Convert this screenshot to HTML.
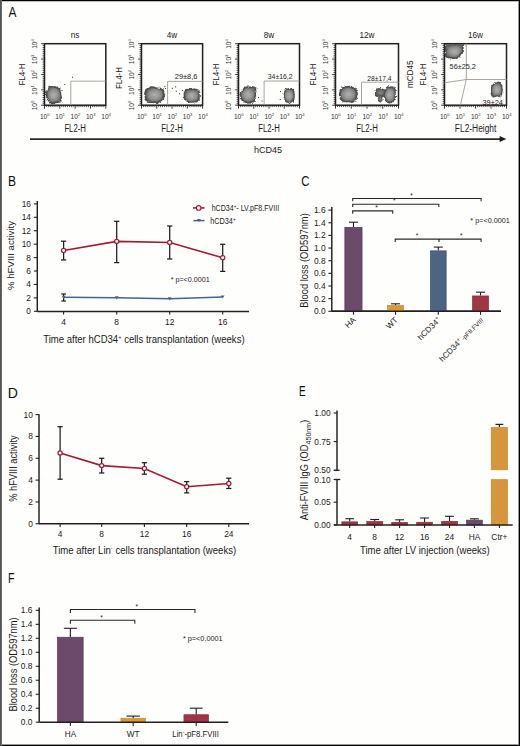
<!DOCTYPE html>
<html><head><meta charset="utf-8"><style>
html,body{margin:0;padding:0;background:#fefefc;}
svg{display:block;}
text{font-family:"Liberation Sans", sans-serif;}
</style></head><body>
<svg width="520" height="746" viewBox="0 0 520 746">
<rect x="0" y="0" width="520" height="746" fill="#fefefc"/>
<text x="0" y="0" font-size="13.8" fill="#111" transform="translate(8.38,16.8) scale(0.865,1)">A</text>
<text x="0" y="0" font-size="13.8" fill="#111" transform="translate(7.91,186.4) scale(0.873,1)">B</text>
<text x="0" y="0" font-size="13.8" fill="#111" transform="translate(301.22,186.4) scale(0.826,1)">C</text>
<text x="0" y="0" font-size="13.8" fill="#111" transform="translate(7.75,397.6) scale(1.018,1)">D</text>
<text x="0" y="0" font-size="13.8" fill="#111" transform="translate(299.08,395.9) scale(0.723,1)">E</text>
<text x="0" y="0" font-size="13.8" fill="#111" transform="translate(8.03,582.9) scale(0.772,1)">F</text>
<text x="75.15" y="37.80" font-size="8.2" fill="#1c1a1b" text-anchor="middle" >ns</text>
<line x1="44.50" y1="105.20" x2="44.50" y2="108.60" stroke="#222" stroke-width="0.9" />
<line x1="44.50" y1="105.20" x2="41.10" y2="105.20" stroke="#222" stroke-width="0.9" />
<line x1="46.42" y1="105.20" x2="46.42" y2="107.10" stroke="#222" stroke-width="0.8" />
<line x1="44.50" y1="103.28" x2="42.60" y2="103.28" stroke="#222" stroke-width="0.8" />
<line x1="48.33" y1="105.20" x2="48.33" y2="107.10" stroke="#222" stroke-width="0.8" />
<line x1="44.50" y1="101.36" x2="42.60" y2="101.36" stroke="#222" stroke-width="0.8" />
<line x1="50.25" y1="105.20" x2="50.25" y2="107.10" stroke="#222" stroke-width="0.8" />
<line x1="44.50" y1="99.43" x2="42.60" y2="99.43" stroke="#222" stroke-width="0.8" />
<line x1="52.16" y1="105.20" x2="52.16" y2="107.10" stroke="#222" stroke-width="0.8" />
<line x1="44.50" y1="97.51" x2="42.60" y2="97.51" stroke="#222" stroke-width="0.8" />
<line x1="54.08" y1="105.20" x2="54.08" y2="107.10" stroke="#222" stroke-width="0.8" />
<line x1="44.50" y1="95.59" x2="42.60" y2="95.59" stroke="#222" stroke-width="0.8" />
<line x1="55.99" y1="105.20" x2="55.99" y2="107.10" stroke="#222" stroke-width="0.8" />
<line x1="44.50" y1="93.67" x2="42.60" y2="93.67" stroke="#222" stroke-width="0.8" />
<line x1="57.91" y1="105.20" x2="57.91" y2="107.10" stroke="#222" stroke-width="0.8" />
<line x1="44.50" y1="91.75" x2="42.60" y2="91.75" stroke="#222" stroke-width="0.8" />
<line x1="59.83" y1="105.20" x2="59.83" y2="108.60" stroke="#222" stroke-width="0.9" />
<line x1="44.50" y1="89.83" x2="41.10" y2="89.83" stroke="#222" stroke-width="0.9" />
<line x1="61.74" y1="105.20" x2="61.74" y2="107.10" stroke="#222" stroke-width="0.8" />
<line x1="44.50" y1="87.90" x2="42.60" y2="87.90" stroke="#222" stroke-width="0.8" />
<line x1="63.66" y1="105.20" x2="63.66" y2="107.10" stroke="#222" stroke-width="0.8" />
<line x1="44.50" y1="85.98" x2="42.60" y2="85.98" stroke="#222" stroke-width="0.8" />
<line x1="65.57" y1="105.20" x2="65.57" y2="107.10" stroke="#222" stroke-width="0.8" />
<line x1="44.50" y1="84.06" x2="42.60" y2="84.06" stroke="#222" stroke-width="0.8" />
<line x1="67.49" y1="105.20" x2="67.49" y2="107.10" stroke="#222" stroke-width="0.8" />
<line x1="44.50" y1="82.14" x2="42.60" y2="82.14" stroke="#222" stroke-width="0.8" />
<line x1="69.40" y1="105.20" x2="69.40" y2="107.10" stroke="#222" stroke-width="0.8" />
<line x1="44.50" y1="80.22" x2="42.60" y2="80.22" stroke="#222" stroke-width="0.8" />
<line x1="71.32" y1="105.20" x2="71.32" y2="107.10" stroke="#222" stroke-width="0.8" />
<line x1="44.50" y1="78.29" x2="42.60" y2="78.29" stroke="#222" stroke-width="0.8" />
<line x1="73.23" y1="105.20" x2="73.23" y2="107.10" stroke="#222" stroke-width="0.8" />
<line x1="44.50" y1="76.37" x2="42.60" y2="76.37" stroke="#222" stroke-width="0.8" />
<line x1="75.15" y1="105.20" x2="75.15" y2="108.60" stroke="#222" stroke-width="0.9" />
<line x1="44.50" y1="74.45" x2="41.10" y2="74.45" stroke="#222" stroke-width="0.9" />
<line x1="77.07" y1="105.20" x2="77.07" y2="107.10" stroke="#222" stroke-width="0.8" />
<line x1="44.50" y1="72.53" x2="42.60" y2="72.53" stroke="#222" stroke-width="0.8" />
<line x1="78.98" y1="105.20" x2="78.98" y2="107.10" stroke="#222" stroke-width="0.8" />
<line x1="44.50" y1="70.61" x2="42.60" y2="70.61" stroke="#222" stroke-width="0.8" />
<line x1="80.90" y1="105.20" x2="80.90" y2="107.10" stroke="#222" stroke-width="0.8" />
<line x1="44.50" y1="68.68" x2="42.60" y2="68.68" stroke="#222" stroke-width="0.8" />
<line x1="82.81" y1="105.20" x2="82.81" y2="107.10" stroke="#222" stroke-width="0.8" />
<line x1="44.50" y1="66.76" x2="42.60" y2="66.76" stroke="#222" stroke-width="0.8" />
<line x1="84.73" y1="105.20" x2="84.73" y2="107.10" stroke="#222" stroke-width="0.8" />
<line x1="44.50" y1="64.84" x2="42.60" y2="64.84" stroke="#222" stroke-width="0.8" />
<line x1="86.64" y1="105.20" x2="86.64" y2="107.10" stroke="#222" stroke-width="0.8" />
<line x1="44.50" y1="62.92" x2="42.60" y2="62.92" stroke="#222" stroke-width="0.8" />
<line x1="88.56" y1="105.20" x2="88.56" y2="107.10" stroke="#222" stroke-width="0.8" />
<line x1="44.50" y1="61.00" x2="42.60" y2="61.00" stroke="#222" stroke-width="0.8" />
<line x1="90.47" y1="105.20" x2="90.47" y2="108.60" stroke="#222" stroke-width="0.9" />
<line x1="44.50" y1="59.08" x2="41.10" y2="59.08" stroke="#222" stroke-width="0.9" />
<line x1="92.39" y1="105.20" x2="92.39" y2="107.10" stroke="#222" stroke-width="0.8" />
<line x1="44.50" y1="57.15" x2="42.60" y2="57.15" stroke="#222" stroke-width="0.8" />
<line x1="94.31" y1="105.20" x2="94.31" y2="107.10" stroke="#222" stroke-width="0.8" />
<line x1="44.50" y1="55.23" x2="42.60" y2="55.23" stroke="#222" stroke-width="0.8" />
<line x1="96.22" y1="105.20" x2="96.22" y2="107.10" stroke="#222" stroke-width="0.8" />
<line x1="44.50" y1="53.31" x2="42.60" y2="53.31" stroke="#222" stroke-width="0.8" />
<line x1="98.14" y1="105.20" x2="98.14" y2="107.10" stroke="#222" stroke-width="0.8" />
<line x1="44.50" y1="51.39" x2="42.60" y2="51.39" stroke="#222" stroke-width="0.8" />
<line x1="100.05" y1="105.20" x2="100.05" y2="107.10" stroke="#222" stroke-width="0.8" />
<line x1="44.50" y1="49.47" x2="42.60" y2="49.47" stroke="#222" stroke-width="0.8" />
<line x1="101.97" y1="105.20" x2="101.97" y2="107.10" stroke="#222" stroke-width="0.8" />
<line x1="44.50" y1="47.54" x2="42.60" y2="47.54" stroke="#222" stroke-width="0.8" />
<line x1="103.88" y1="105.20" x2="103.88" y2="107.10" stroke="#222" stroke-width="0.8" />
<line x1="44.50" y1="45.62" x2="42.60" y2="45.62" stroke="#222" stroke-width="0.8" />
<line x1="105.80" y1="105.20" x2="105.80" y2="108.60" stroke="#222" stroke-width="0.9" />
<line x1="44.50" y1="43.70" x2="41.10" y2="43.70" stroke="#222" stroke-width="0.9" />
<rect x="44.50" y="43.70" width="61.30" height="61.50" fill="none" stroke="#231f20" stroke-width="1.5"/>
<text x="44.80" y="118.6" font-size="6.6" fill="#333" text-anchor="middle">10<tspan font-size="4.2" dy="-2.6">0</tspan></text>
<text x="0" y="0" font-size="6.6" fill="#333" text-anchor="middle" transform="translate(37.00,105.50) rotate(-90)">10<tspan font-size="4.2" dy="-2.6">0</tspan></text>
<text x="60.12" y="118.6" font-size="6.6" fill="#333" text-anchor="middle">10<tspan font-size="4.2" dy="-2.6">1</tspan></text>
<text x="0" y="0" font-size="6.6" fill="#333" text-anchor="middle" transform="translate(37.00,90.12) rotate(-90)">10<tspan font-size="4.2" dy="-2.6">1</tspan></text>
<text x="75.45" y="118.6" font-size="6.6" fill="#333" text-anchor="middle">10<tspan font-size="4.2" dy="-2.6">2</tspan></text>
<text x="0" y="0" font-size="6.6" fill="#333" text-anchor="middle" transform="translate(37.00,74.75) rotate(-90)">10<tspan font-size="4.2" dy="-2.6">2</tspan></text>
<text x="90.77" y="118.6" font-size="6.6" fill="#333" text-anchor="middle">10<tspan font-size="4.2" dy="-2.6">3</tspan></text>
<text x="0" y="0" font-size="6.6" fill="#333" text-anchor="middle" transform="translate(37.00,59.38) rotate(-90)">10<tspan font-size="4.2" dy="-2.6">3</tspan></text>
<text x="106.10" y="118.6" font-size="6.6" fill="#333" text-anchor="middle">10<tspan font-size="4.2" dy="-2.6">4</tspan></text>
<text x="0" y="0" font-size="6.6" fill="#333" text-anchor="middle" transform="translate(37.00,44.00) rotate(-90)">10<tspan font-size="4.2" dy="-2.6">4</tspan></text>
<text x="75.15" y="131.60" font-size="10" fill="#1c1a1b" text-anchor="middle" textLength="21.5" lengthAdjust="spacingAndGlyphs" >FL2-H</text>
<text x="0" y="0" font-size="9.6" fill="#1c1a1b"  transform="translate(24.90,74.60) rotate(-90)" text-anchor="middle" textLength="22" lengthAdjust="spacingAndGlyphs" >FL4-H</text>
<text x="172.05" y="37.80" font-size="8.2" fill="#1c1a1b" text-anchor="middle" >4w</text>
<line x1="141.50" y1="105.20" x2="141.50" y2="108.60" stroke="#222" stroke-width="0.9" />
<line x1="141.50" y1="105.20" x2="138.10" y2="105.20" stroke="#222" stroke-width="0.9" />
<line x1="143.41" y1="105.20" x2="143.41" y2="107.10" stroke="#222" stroke-width="0.8" />
<line x1="141.50" y1="103.28" x2="139.60" y2="103.28" stroke="#222" stroke-width="0.8" />
<line x1="145.32" y1="105.20" x2="145.32" y2="107.10" stroke="#222" stroke-width="0.8" />
<line x1="141.50" y1="101.36" x2="139.60" y2="101.36" stroke="#222" stroke-width="0.8" />
<line x1="147.23" y1="105.20" x2="147.23" y2="107.10" stroke="#222" stroke-width="0.8" />
<line x1="141.50" y1="99.43" x2="139.60" y2="99.43" stroke="#222" stroke-width="0.8" />
<line x1="149.14" y1="105.20" x2="149.14" y2="107.10" stroke="#222" stroke-width="0.8" />
<line x1="141.50" y1="97.51" x2="139.60" y2="97.51" stroke="#222" stroke-width="0.8" />
<line x1="151.05" y1="105.20" x2="151.05" y2="107.10" stroke="#222" stroke-width="0.8" />
<line x1="141.50" y1="95.59" x2="139.60" y2="95.59" stroke="#222" stroke-width="0.8" />
<line x1="152.96" y1="105.20" x2="152.96" y2="107.10" stroke="#222" stroke-width="0.8" />
<line x1="141.50" y1="93.67" x2="139.60" y2="93.67" stroke="#222" stroke-width="0.8" />
<line x1="154.87" y1="105.20" x2="154.87" y2="107.10" stroke="#222" stroke-width="0.8" />
<line x1="141.50" y1="91.75" x2="139.60" y2="91.75" stroke="#222" stroke-width="0.8" />
<line x1="156.78" y1="105.20" x2="156.78" y2="108.60" stroke="#222" stroke-width="0.9" />
<line x1="141.50" y1="89.83" x2="138.10" y2="89.83" stroke="#222" stroke-width="0.9" />
<line x1="158.68" y1="105.20" x2="158.68" y2="107.10" stroke="#222" stroke-width="0.8" />
<line x1="141.50" y1="87.90" x2="139.60" y2="87.90" stroke="#222" stroke-width="0.8" />
<line x1="160.59" y1="105.20" x2="160.59" y2="107.10" stroke="#222" stroke-width="0.8" />
<line x1="141.50" y1="85.98" x2="139.60" y2="85.98" stroke="#222" stroke-width="0.8" />
<line x1="162.50" y1="105.20" x2="162.50" y2="107.10" stroke="#222" stroke-width="0.8" />
<line x1="141.50" y1="84.06" x2="139.60" y2="84.06" stroke="#222" stroke-width="0.8" />
<line x1="164.41" y1="105.20" x2="164.41" y2="107.10" stroke="#222" stroke-width="0.8" />
<line x1="141.50" y1="82.14" x2="139.60" y2="82.14" stroke="#222" stroke-width="0.8" />
<line x1="166.32" y1="105.20" x2="166.32" y2="107.10" stroke="#222" stroke-width="0.8" />
<line x1="141.50" y1="80.22" x2="139.60" y2="80.22" stroke="#222" stroke-width="0.8" />
<line x1="168.23" y1="105.20" x2="168.23" y2="107.10" stroke="#222" stroke-width="0.8" />
<line x1="141.50" y1="78.29" x2="139.60" y2="78.29" stroke="#222" stroke-width="0.8" />
<line x1="170.14" y1="105.20" x2="170.14" y2="107.10" stroke="#222" stroke-width="0.8" />
<line x1="141.50" y1="76.37" x2="139.60" y2="76.37" stroke="#222" stroke-width="0.8" />
<line x1="172.05" y1="105.20" x2="172.05" y2="108.60" stroke="#222" stroke-width="0.9" />
<line x1="141.50" y1="74.45" x2="138.10" y2="74.45" stroke="#222" stroke-width="0.9" />
<line x1="173.96" y1="105.20" x2="173.96" y2="107.10" stroke="#222" stroke-width="0.8" />
<line x1="141.50" y1="72.53" x2="139.60" y2="72.53" stroke="#222" stroke-width="0.8" />
<line x1="175.87" y1="105.20" x2="175.87" y2="107.10" stroke="#222" stroke-width="0.8" />
<line x1="141.50" y1="70.61" x2="139.60" y2="70.61" stroke="#222" stroke-width="0.8" />
<line x1="177.78" y1="105.20" x2="177.78" y2="107.10" stroke="#222" stroke-width="0.8" />
<line x1="141.50" y1="68.68" x2="139.60" y2="68.68" stroke="#222" stroke-width="0.8" />
<line x1="179.69" y1="105.20" x2="179.69" y2="107.10" stroke="#222" stroke-width="0.8" />
<line x1="141.50" y1="66.76" x2="139.60" y2="66.76" stroke="#222" stroke-width="0.8" />
<line x1="181.60" y1="105.20" x2="181.60" y2="107.10" stroke="#222" stroke-width="0.8" />
<line x1="141.50" y1="64.84" x2="139.60" y2="64.84" stroke="#222" stroke-width="0.8" />
<line x1="183.51" y1="105.20" x2="183.51" y2="107.10" stroke="#222" stroke-width="0.8" />
<line x1="141.50" y1="62.92" x2="139.60" y2="62.92" stroke="#222" stroke-width="0.8" />
<line x1="185.42" y1="105.20" x2="185.42" y2="107.10" stroke="#222" stroke-width="0.8" />
<line x1="141.50" y1="61.00" x2="139.60" y2="61.00" stroke="#222" stroke-width="0.8" />
<line x1="187.32" y1="105.20" x2="187.32" y2="108.60" stroke="#222" stroke-width="0.9" />
<line x1="141.50" y1="59.08" x2="138.10" y2="59.08" stroke="#222" stroke-width="0.9" />
<line x1="189.23" y1="105.20" x2="189.23" y2="107.10" stroke="#222" stroke-width="0.8" />
<line x1="141.50" y1="57.15" x2="139.60" y2="57.15" stroke="#222" stroke-width="0.8" />
<line x1="191.14" y1="105.20" x2="191.14" y2="107.10" stroke="#222" stroke-width="0.8" />
<line x1="141.50" y1="55.23" x2="139.60" y2="55.23" stroke="#222" stroke-width="0.8" />
<line x1="193.05" y1="105.20" x2="193.05" y2="107.10" stroke="#222" stroke-width="0.8" />
<line x1="141.50" y1="53.31" x2="139.60" y2="53.31" stroke="#222" stroke-width="0.8" />
<line x1="194.96" y1="105.20" x2="194.96" y2="107.10" stroke="#222" stroke-width="0.8" />
<line x1="141.50" y1="51.39" x2="139.60" y2="51.39" stroke="#222" stroke-width="0.8" />
<line x1="196.87" y1="105.20" x2="196.87" y2="107.10" stroke="#222" stroke-width="0.8" />
<line x1="141.50" y1="49.47" x2="139.60" y2="49.47" stroke="#222" stroke-width="0.8" />
<line x1="198.78" y1="105.20" x2="198.78" y2="107.10" stroke="#222" stroke-width="0.8" />
<line x1="141.50" y1="47.54" x2="139.60" y2="47.54" stroke="#222" stroke-width="0.8" />
<line x1="200.69" y1="105.20" x2="200.69" y2="107.10" stroke="#222" stroke-width="0.8" />
<line x1="141.50" y1="45.62" x2="139.60" y2="45.62" stroke="#222" stroke-width="0.8" />
<line x1="202.60" y1="105.20" x2="202.60" y2="108.60" stroke="#222" stroke-width="0.9" />
<line x1="141.50" y1="43.70" x2="138.10" y2="43.70" stroke="#222" stroke-width="0.9" />
<rect x="141.50" y="43.70" width="61.10" height="61.50" fill="none" stroke="#231f20" stroke-width="1.5"/>
<text x="141.80" y="118.6" font-size="6.6" fill="#333" text-anchor="middle">10<tspan font-size="4.2" dy="-2.6">0</tspan></text>
<text x="0" y="0" font-size="6.6" fill="#333" text-anchor="middle" transform="translate(134.00,105.50) rotate(-90)">10<tspan font-size="4.2" dy="-2.6">0</tspan></text>
<text x="157.08" y="118.6" font-size="6.6" fill="#333" text-anchor="middle">10<tspan font-size="4.2" dy="-2.6">1</tspan></text>
<text x="0" y="0" font-size="6.6" fill="#333" text-anchor="middle" transform="translate(134.00,90.12) rotate(-90)">10<tspan font-size="4.2" dy="-2.6">1</tspan></text>
<text x="172.35" y="118.6" font-size="6.6" fill="#333" text-anchor="middle">10<tspan font-size="4.2" dy="-2.6">2</tspan></text>
<text x="0" y="0" font-size="6.6" fill="#333" text-anchor="middle" transform="translate(134.00,74.75) rotate(-90)">10<tspan font-size="4.2" dy="-2.6">2</tspan></text>
<text x="187.62" y="118.6" font-size="6.6" fill="#333" text-anchor="middle">10<tspan font-size="4.2" dy="-2.6">3</tspan></text>
<text x="0" y="0" font-size="6.6" fill="#333" text-anchor="middle" transform="translate(134.00,59.38) rotate(-90)">10<tspan font-size="4.2" dy="-2.6">3</tspan></text>
<text x="202.90" y="118.6" font-size="6.6" fill="#333" text-anchor="middle">10<tspan font-size="4.2" dy="-2.6">4</tspan></text>
<text x="0" y="0" font-size="6.6" fill="#333" text-anchor="middle" transform="translate(134.00,44.00) rotate(-90)">10<tspan font-size="4.2" dy="-2.6">4</tspan></text>
<text x="172.05" y="131.60" font-size="10" fill="#1c1a1b" text-anchor="middle" textLength="21.5" lengthAdjust="spacingAndGlyphs" >FL2-H</text>
<text x="0" y="0" font-size="9.6" fill="#1c1a1b"  transform="translate(121.90,78.10) rotate(-90)" text-anchor="middle" textLength="22" lengthAdjust="spacingAndGlyphs" >FL4-H</text>
<text x="269.00" y="37.80" font-size="8.2" fill="#1c1a1b" text-anchor="middle" >8w</text>
<line x1="238.50" y1="105.20" x2="238.50" y2="108.60" stroke="#222" stroke-width="0.9" />
<line x1="238.50" y1="105.20" x2="235.10" y2="105.20" stroke="#222" stroke-width="0.9" />
<line x1="240.41" y1="105.20" x2="240.41" y2="107.10" stroke="#222" stroke-width="0.8" />
<line x1="238.50" y1="103.28" x2="236.60" y2="103.28" stroke="#222" stroke-width="0.8" />
<line x1="242.31" y1="105.20" x2="242.31" y2="107.10" stroke="#222" stroke-width="0.8" />
<line x1="238.50" y1="101.36" x2="236.60" y2="101.36" stroke="#222" stroke-width="0.8" />
<line x1="244.22" y1="105.20" x2="244.22" y2="107.10" stroke="#222" stroke-width="0.8" />
<line x1="238.50" y1="99.43" x2="236.60" y2="99.43" stroke="#222" stroke-width="0.8" />
<line x1="246.12" y1="105.20" x2="246.12" y2="107.10" stroke="#222" stroke-width="0.8" />
<line x1="238.50" y1="97.51" x2="236.60" y2="97.51" stroke="#222" stroke-width="0.8" />
<line x1="248.03" y1="105.20" x2="248.03" y2="107.10" stroke="#222" stroke-width="0.8" />
<line x1="238.50" y1="95.59" x2="236.60" y2="95.59" stroke="#222" stroke-width="0.8" />
<line x1="249.94" y1="105.20" x2="249.94" y2="107.10" stroke="#222" stroke-width="0.8" />
<line x1="238.50" y1="93.67" x2="236.60" y2="93.67" stroke="#222" stroke-width="0.8" />
<line x1="251.84" y1="105.20" x2="251.84" y2="107.10" stroke="#222" stroke-width="0.8" />
<line x1="238.50" y1="91.75" x2="236.60" y2="91.75" stroke="#222" stroke-width="0.8" />
<line x1="253.75" y1="105.20" x2="253.75" y2="108.60" stroke="#222" stroke-width="0.9" />
<line x1="238.50" y1="89.83" x2="235.10" y2="89.83" stroke="#222" stroke-width="0.9" />
<line x1="255.66" y1="105.20" x2="255.66" y2="107.10" stroke="#222" stroke-width="0.8" />
<line x1="238.50" y1="87.90" x2="236.60" y2="87.90" stroke="#222" stroke-width="0.8" />
<line x1="257.56" y1="105.20" x2="257.56" y2="107.10" stroke="#222" stroke-width="0.8" />
<line x1="238.50" y1="85.98" x2="236.60" y2="85.98" stroke="#222" stroke-width="0.8" />
<line x1="259.47" y1="105.20" x2="259.47" y2="107.10" stroke="#222" stroke-width="0.8" />
<line x1="238.50" y1="84.06" x2="236.60" y2="84.06" stroke="#222" stroke-width="0.8" />
<line x1="261.38" y1="105.20" x2="261.38" y2="107.10" stroke="#222" stroke-width="0.8" />
<line x1="238.50" y1="82.14" x2="236.60" y2="82.14" stroke="#222" stroke-width="0.8" />
<line x1="263.28" y1="105.20" x2="263.28" y2="107.10" stroke="#222" stroke-width="0.8" />
<line x1="238.50" y1="80.22" x2="236.60" y2="80.22" stroke="#222" stroke-width="0.8" />
<line x1="265.19" y1="105.20" x2="265.19" y2="107.10" stroke="#222" stroke-width="0.8" />
<line x1="238.50" y1="78.29" x2="236.60" y2="78.29" stroke="#222" stroke-width="0.8" />
<line x1="267.09" y1="105.20" x2="267.09" y2="107.10" stroke="#222" stroke-width="0.8" />
<line x1="238.50" y1="76.37" x2="236.60" y2="76.37" stroke="#222" stroke-width="0.8" />
<line x1="269.00" y1="105.20" x2="269.00" y2="108.60" stroke="#222" stroke-width="0.9" />
<line x1="238.50" y1="74.45" x2="235.10" y2="74.45" stroke="#222" stroke-width="0.9" />
<line x1="270.91" y1="105.20" x2="270.91" y2="107.10" stroke="#222" stroke-width="0.8" />
<line x1="238.50" y1="72.53" x2="236.60" y2="72.53" stroke="#222" stroke-width="0.8" />
<line x1="272.81" y1="105.20" x2="272.81" y2="107.10" stroke="#222" stroke-width="0.8" />
<line x1="238.50" y1="70.61" x2="236.60" y2="70.61" stroke="#222" stroke-width="0.8" />
<line x1="274.72" y1="105.20" x2="274.72" y2="107.10" stroke="#222" stroke-width="0.8" />
<line x1="238.50" y1="68.68" x2="236.60" y2="68.68" stroke="#222" stroke-width="0.8" />
<line x1="276.62" y1="105.20" x2="276.62" y2="107.10" stroke="#222" stroke-width="0.8" />
<line x1="238.50" y1="66.76" x2="236.60" y2="66.76" stroke="#222" stroke-width="0.8" />
<line x1="278.53" y1="105.20" x2="278.53" y2="107.10" stroke="#222" stroke-width="0.8" />
<line x1="238.50" y1="64.84" x2="236.60" y2="64.84" stroke="#222" stroke-width="0.8" />
<line x1="280.44" y1="105.20" x2="280.44" y2="107.10" stroke="#222" stroke-width="0.8" />
<line x1="238.50" y1="62.92" x2="236.60" y2="62.92" stroke="#222" stroke-width="0.8" />
<line x1="282.34" y1="105.20" x2="282.34" y2="107.10" stroke="#222" stroke-width="0.8" />
<line x1="238.50" y1="61.00" x2="236.60" y2="61.00" stroke="#222" stroke-width="0.8" />
<line x1="284.25" y1="105.20" x2="284.25" y2="108.60" stroke="#222" stroke-width="0.9" />
<line x1="238.50" y1="59.08" x2="235.10" y2="59.08" stroke="#222" stroke-width="0.9" />
<line x1="286.16" y1="105.20" x2="286.16" y2="107.10" stroke="#222" stroke-width="0.8" />
<line x1="238.50" y1="57.15" x2="236.60" y2="57.15" stroke="#222" stroke-width="0.8" />
<line x1="288.06" y1="105.20" x2="288.06" y2="107.10" stroke="#222" stroke-width="0.8" />
<line x1="238.50" y1="55.23" x2="236.60" y2="55.23" stroke="#222" stroke-width="0.8" />
<line x1="289.97" y1="105.20" x2="289.97" y2="107.10" stroke="#222" stroke-width="0.8" />
<line x1="238.50" y1="53.31" x2="236.60" y2="53.31" stroke="#222" stroke-width="0.8" />
<line x1="291.88" y1="105.20" x2="291.88" y2="107.10" stroke="#222" stroke-width="0.8" />
<line x1="238.50" y1="51.39" x2="236.60" y2="51.39" stroke="#222" stroke-width="0.8" />
<line x1="293.78" y1="105.20" x2="293.78" y2="107.10" stroke="#222" stroke-width="0.8" />
<line x1="238.50" y1="49.47" x2="236.60" y2="49.47" stroke="#222" stroke-width="0.8" />
<line x1="295.69" y1="105.20" x2="295.69" y2="107.10" stroke="#222" stroke-width="0.8" />
<line x1="238.50" y1="47.54" x2="236.60" y2="47.54" stroke="#222" stroke-width="0.8" />
<line x1="297.59" y1="105.20" x2="297.59" y2="107.10" stroke="#222" stroke-width="0.8" />
<line x1="238.50" y1="45.62" x2="236.60" y2="45.62" stroke="#222" stroke-width="0.8" />
<line x1="299.50" y1="105.20" x2="299.50" y2="108.60" stroke="#222" stroke-width="0.9" />
<line x1="238.50" y1="43.70" x2="235.10" y2="43.70" stroke="#222" stroke-width="0.9" />
<rect x="238.50" y="43.70" width="61.00" height="61.50" fill="none" stroke="#231f20" stroke-width="1.5"/>
<text x="238.80" y="118.6" font-size="6.6" fill="#333" text-anchor="middle">10<tspan font-size="4.2" dy="-2.6">0</tspan></text>
<text x="0" y="0" font-size="6.6" fill="#333" text-anchor="middle" transform="translate(231.00,105.50) rotate(-90)">10<tspan font-size="4.2" dy="-2.6">0</tspan></text>
<text x="254.05" y="118.6" font-size="6.6" fill="#333" text-anchor="middle">10<tspan font-size="4.2" dy="-2.6">1</tspan></text>
<text x="0" y="0" font-size="6.6" fill="#333" text-anchor="middle" transform="translate(231.00,90.12) rotate(-90)">10<tspan font-size="4.2" dy="-2.6">1</tspan></text>
<text x="269.30" y="118.6" font-size="6.6" fill="#333" text-anchor="middle">10<tspan font-size="4.2" dy="-2.6">2</tspan></text>
<text x="0" y="0" font-size="6.6" fill="#333" text-anchor="middle" transform="translate(231.00,74.75) rotate(-90)">10<tspan font-size="4.2" dy="-2.6">2</tspan></text>
<text x="284.55" y="118.6" font-size="6.6" fill="#333" text-anchor="middle">10<tspan font-size="4.2" dy="-2.6">3</tspan></text>
<text x="0" y="0" font-size="6.6" fill="#333" text-anchor="middle" transform="translate(231.00,59.38) rotate(-90)">10<tspan font-size="4.2" dy="-2.6">3</tspan></text>
<text x="299.80" y="118.6" font-size="6.6" fill="#333" text-anchor="middle">10<tspan font-size="4.2" dy="-2.6">4</tspan></text>
<text x="0" y="0" font-size="6.6" fill="#333" text-anchor="middle" transform="translate(231.00,44.00) rotate(-90)">10<tspan font-size="4.2" dy="-2.6">4</tspan></text>
<text x="269.00" y="131.60" font-size="10" fill="#1c1a1b" text-anchor="middle" textLength="21.5" lengthAdjust="spacingAndGlyphs" >FL2-H</text>
<text x="0" y="0" font-size="9.6" fill="#1c1a1b"  transform="translate(218.90,74.60) rotate(-90)" text-anchor="middle" textLength="22" lengthAdjust="spacingAndGlyphs" >FL4-H</text>
<text x="367.00" y="37.80" font-size="8.2" fill="#1c1a1b" text-anchor="middle" >12w</text>
<line x1="335.50" y1="105.20" x2="335.50" y2="108.60" stroke="#222" stroke-width="0.9" />
<line x1="335.50" y1="105.20" x2="332.10" y2="105.20" stroke="#222" stroke-width="0.9" />
<line x1="337.47" y1="105.20" x2="337.47" y2="107.10" stroke="#222" stroke-width="0.8" />
<line x1="335.50" y1="103.28" x2="333.60" y2="103.28" stroke="#222" stroke-width="0.8" />
<line x1="339.44" y1="105.20" x2="339.44" y2="107.10" stroke="#222" stroke-width="0.8" />
<line x1="335.50" y1="101.36" x2="333.60" y2="101.36" stroke="#222" stroke-width="0.8" />
<line x1="341.41" y1="105.20" x2="341.41" y2="107.10" stroke="#222" stroke-width="0.8" />
<line x1="335.50" y1="99.43" x2="333.60" y2="99.43" stroke="#222" stroke-width="0.8" />
<line x1="343.38" y1="105.20" x2="343.38" y2="107.10" stroke="#222" stroke-width="0.8" />
<line x1="335.50" y1="97.51" x2="333.60" y2="97.51" stroke="#222" stroke-width="0.8" />
<line x1="345.34" y1="105.20" x2="345.34" y2="107.10" stroke="#222" stroke-width="0.8" />
<line x1="335.50" y1="95.59" x2="333.60" y2="95.59" stroke="#222" stroke-width="0.8" />
<line x1="347.31" y1="105.20" x2="347.31" y2="107.10" stroke="#222" stroke-width="0.8" />
<line x1="335.50" y1="93.67" x2="333.60" y2="93.67" stroke="#222" stroke-width="0.8" />
<line x1="349.28" y1="105.20" x2="349.28" y2="107.10" stroke="#222" stroke-width="0.8" />
<line x1="335.50" y1="91.75" x2="333.60" y2="91.75" stroke="#222" stroke-width="0.8" />
<line x1="351.25" y1="105.20" x2="351.25" y2="108.60" stroke="#222" stroke-width="0.9" />
<line x1="335.50" y1="89.83" x2="332.10" y2="89.83" stroke="#222" stroke-width="0.9" />
<line x1="353.22" y1="105.20" x2="353.22" y2="107.10" stroke="#222" stroke-width="0.8" />
<line x1="335.50" y1="87.90" x2="333.60" y2="87.90" stroke="#222" stroke-width="0.8" />
<line x1="355.19" y1="105.20" x2="355.19" y2="107.10" stroke="#222" stroke-width="0.8" />
<line x1="335.50" y1="85.98" x2="333.60" y2="85.98" stroke="#222" stroke-width="0.8" />
<line x1="357.16" y1="105.20" x2="357.16" y2="107.10" stroke="#222" stroke-width="0.8" />
<line x1="335.50" y1="84.06" x2="333.60" y2="84.06" stroke="#222" stroke-width="0.8" />
<line x1="359.12" y1="105.20" x2="359.12" y2="107.10" stroke="#222" stroke-width="0.8" />
<line x1="335.50" y1="82.14" x2="333.60" y2="82.14" stroke="#222" stroke-width="0.8" />
<line x1="361.09" y1="105.20" x2="361.09" y2="107.10" stroke="#222" stroke-width="0.8" />
<line x1="335.50" y1="80.22" x2="333.60" y2="80.22" stroke="#222" stroke-width="0.8" />
<line x1="363.06" y1="105.20" x2="363.06" y2="107.10" stroke="#222" stroke-width="0.8" />
<line x1="335.50" y1="78.29" x2="333.60" y2="78.29" stroke="#222" stroke-width="0.8" />
<line x1="365.03" y1="105.20" x2="365.03" y2="107.10" stroke="#222" stroke-width="0.8" />
<line x1="335.50" y1="76.37" x2="333.60" y2="76.37" stroke="#222" stroke-width="0.8" />
<line x1="367.00" y1="105.20" x2="367.00" y2="108.60" stroke="#222" stroke-width="0.9" />
<line x1="335.50" y1="74.45" x2="332.10" y2="74.45" stroke="#222" stroke-width="0.9" />
<line x1="368.97" y1="105.20" x2="368.97" y2="107.10" stroke="#222" stroke-width="0.8" />
<line x1="335.50" y1="72.53" x2="333.60" y2="72.53" stroke="#222" stroke-width="0.8" />
<line x1="370.94" y1="105.20" x2="370.94" y2="107.10" stroke="#222" stroke-width="0.8" />
<line x1="335.50" y1="70.61" x2="333.60" y2="70.61" stroke="#222" stroke-width="0.8" />
<line x1="372.91" y1="105.20" x2="372.91" y2="107.10" stroke="#222" stroke-width="0.8" />
<line x1="335.50" y1="68.68" x2="333.60" y2="68.68" stroke="#222" stroke-width="0.8" />
<line x1="374.88" y1="105.20" x2="374.88" y2="107.10" stroke="#222" stroke-width="0.8" />
<line x1="335.50" y1="66.76" x2="333.60" y2="66.76" stroke="#222" stroke-width="0.8" />
<line x1="376.84" y1="105.20" x2="376.84" y2="107.10" stroke="#222" stroke-width="0.8" />
<line x1="335.50" y1="64.84" x2="333.60" y2="64.84" stroke="#222" stroke-width="0.8" />
<line x1="378.81" y1="105.20" x2="378.81" y2="107.10" stroke="#222" stroke-width="0.8" />
<line x1="335.50" y1="62.92" x2="333.60" y2="62.92" stroke="#222" stroke-width="0.8" />
<line x1="380.78" y1="105.20" x2="380.78" y2="107.10" stroke="#222" stroke-width="0.8" />
<line x1="335.50" y1="61.00" x2="333.60" y2="61.00" stroke="#222" stroke-width="0.8" />
<line x1="382.75" y1="105.20" x2="382.75" y2="108.60" stroke="#222" stroke-width="0.9" />
<line x1="335.50" y1="59.08" x2="332.10" y2="59.08" stroke="#222" stroke-width="0.9" />
<line x1="384.72" y1="105.20" x2="384.72" y2="107.10" stroke="#222" stroke-width="0.8" />
<line x1="335.50" y1="57.15" x2="333.60" y2="57.15" stroke="#222" stroke-width="0.8" />
<line x1="386.69" y1="105.20" x2="386.69" y2="107.10" stroke="#222" stroke-width="0.8" />
<line x1="335.50" y1="55.23" x2="333.60" y2="55.23" stroke="#222" stroke-width="0.8" />
<line x1="388.66" y1="105.20" x2="388.66" y2="107.10" stroke="#222" stroke-width="0.8" />
<line x1="335.50" y1="53.31" x2="333.60" y2="53.31" stroke="#222" stroke-width="0.8" />
<line x1="390.62" y1="105.20" x2="390.62" y2="107.10" stroke="#222" stroke-width="0.8" />
<line x1="335.50" y1="51.39" x2="333.60" y2="51.39" stroke="#222" stroke-width="0.8" />
<line x1="392.59" y1="105.20" x2="392.59" y2="107.10" stroke="#222" stroke-width="0.8" />
<line x1="335.50" y1="49.47" x2="333.60" y2="49.47" stroke="#222" stroke-width="0.8" />
<line x1="394.56" y1="105.20" x2="394.56" y2="107.10" stroke="#222" stroke-width="0.8" />
<line x1="335.50" y1="47.54" x2="333.60" y2="47.54" stroke="#222" stroke-width="0.8" />
<line x1="396.53" y1="105.20" x2="396.53" y2="107.10" stroke="#222" stroke-width="0.8" />
<line x1="335.50" y1="45.62" x2="333.60" y2="45.62" stroke="#222" stroke-width="0.8" />
<line x1="398.50" y1="105.20" x2="398.50" y2="108.60" stroke="#222" stroke-width="0.9" />
<line x1="335.50" y1="43.70" x2="332.10" y2="43.70" stroke="#222" stroke-width="0.9" />
<rect x="335.50" y="43.70" width="63.00" height="61.50" fill="none" stroke="#231f20" stroke-width="1.5"/>
<text x="335.80" y="118.6" font-size="6.6" fill="#333" text-anchor="middle">10<tspan font-size="4.2" dy="-2.6">0</tspan></text>
<text x="0" y="0" font-size="6.6" fill="#333" text-anchor="middle" transform="translate(328.00,105.50) rotate(-90)">10<tspan font-size="4.2" dy="-2.6">0</tspan></text>
<text x="351.55" y="118.6" font-size="6.6" fill="#333" text-anchor="middle">10<tspan font-size="4.2" dy="-2.6">1</tspan></text>
<text x="0" y="0" font-size="6.6" fill="#333" text-anchor="middle" transform="translate(328.00,90.12) rotate(-90)">10<tspan font-size="4.2" dy="-2.6">1</tspan></text>
<text x="367.30" y="118.6" font-size="6.6" fill="#333" text-anchor="middle">10<tspan font-size="4.2" dy="-2.6">2</tspan></text>
<text x="0" y="0" font-size="6.6" fill="#333" text-anchor="middle" transform="translate(328.00,74.75) rotate(-90)">10<tspan font-size="4.2" dy="-2.6">2</tspan></text>
<text x="383.05" y="118.6" font-size="6.6" fill="#333" text-anchor="middle">10<tspan font-size="4.2" dy="-2.6">3</tspan></text>
<text x="0" y="0" font-size="6.6" fill="#333" text-anchor="middle" transform="translate(328.00,59.38) rotate(-90)">10<tspan font-size="4.2" dy="-2.6">3</tspan></text>
<text x="398.80" y="118.6" font-size="6.6" fill="#333" text-anchor="middle">10<tspan font-size="4.2" dy="-2.6">4</tspan></text>
<text x="0" y="0" font-size="6.6" fill="#333" text-anchor="middle" transform="translate(328.00,44.00) rotate(-90)">10<tspan font-size="4.2" dy="-2.6">4</tspan></text>
<text x="367.00" y="131.60" font-size="10" fill="#1c1a1b" text-anchor="middle" textLength="21.5" lengthAdjust="spacingAndGlyphs" >FL2-H</text>
<text x="0" y="0" font-size="9.6" fill="#1c1a1b"  transform="translate(315.90,74.60) rotate(-90)" text-anchor="middle" textLength="22" lengthAdjust="spacingAndGlyphs" >FL4-H</text>
<text x="475.50" y="37.80" font-size="8.2" fill="#1c1a1b" text-anchor="middle" >16w</text>
<line x1="444.50" y1="105.20" x2="444.50" y2="108.60" stroke="#222" stroke-width="0.9" />
<line x1="444.50" y1="105.20" x2="441.10" y2="105.20" stroke="#222" stroke-width="0.9" />
<line x1="446.44" y1="105.20" x2="446.44" y2="107.10" stroke="#222" stroke-width="0.8" />
<line x1="444.50" y1="103.28" x2="442.60" y2="103.28" stroke="#222" stroke-width="0.8" />
<line x1="448.38" y1="105.20" x2="448.38" y2="107.10" stroke="#222" stroke-width="0.8" />
<line x1="444.50" y1="101.36" x2="442.60" y2="101.36" stroke="#222" stroke-width="0.8" />
<line x1="450.31" y1="105.20" x2="450.31" y2="107.10" stroke="#222" stroke-width="0.8" />
<line x1="444.50" y1="99.43" x2="442.60" y2="99.43" stroke="#222" stroke-width="0.8" />
<line x1="452.25" y1="105.20" x2="452.25" y2="107.10" stroke="#222" stroke-width="0.8" />
<line x1="444.50" y1="97.51" x2="442.60" y2="97.51" stroke="#222" stroke-width="0.8" />
<line x1="454.19" y1="105.20" x2="454.19" y2="107.10" stroke="#222" stroke-width="0.8" />
<line x1="444.50" y1="95.59" x2="442.60" y2="95.59" stroke="#222" stroke-width="0.8" />
<line x1="456.12" y1="105.20" x2="456.12" y2="107.10" stroke="#222" stroke-width="0.8" />
<line x1="444.50" y1="93.67" x2="442.60" y2="93.67" stroke="#222" stroke-width="0.8" />
<line x1="458.06" y1="105.20" x2="458.06" y2="107.10" stroke="#222" stroke-width="0.8" />
<line x1="444.50" y1="91.75" x2="442.60" y2="91.75" stroke="#222" stroke-width="0.8" />
<line x1="460.00" y1="105.20" x2="460.00" y2="108.60" stroke="#222" stroke-width="0.9" />
<line x1="444.50" y1="89.83" x2="441.10" y2="89.83" stroke="#222" stroke-width="0.9" />
<line x1="461.94" y1="105.20" x2="461.94" y2="107.10" stroke="#222" stroke-width="0.8" />
<line x1="444.50" y1="87.90" x2="442.60" y2="87.90" stroke="#222" stroke-width="0.8" />
<line x1="463.88" y1="105.20" x2="463.88" y2="107.10" stroke="#222" stroke-width="0.8" />
<line x1="444.50" y1="85.98" x2="442.60" y2="85.98" stroke="#222" stroke-width="0.8" />
<line x1="465.81" y1="105.20" x2="465.81" y2="107.10" stroke="#222" stroke-width="0.8" />
<line x1="444.50" y1="84.06" x2="442.60" y2="84.06" stroke="#222" stroke-width="0.8" />
<line x1="467.75" y1="105.20" x2="467.75" y2="107.10" stroke="#222" stroke-width="0.8" />
<line x1="444.50" y1="82.14" x2="442.60" y2="82.14" stroke="#222" stroke-width="0.8" />
<line x1="469.69" y1="105.20" x2="469.69" y2="107.10" stroke="#222" stroke-width="0.8" />
<line x1="444.50" y1="80.22" x2="442.60" y2="80.22" stroke="#222" stroke-width="0.8" />
<line x1="471.62" y1="105.20" x2="471.62" y2="107.10" stroke="#222" stroke-width="0.8" />
<line x1="444.50" y1="78.29" x2="442.60" y2="78.29" stroke="#222" stroke-width="0.8" />
<line x1="473.56" y1="105.20" x2="473.56" y2="107.10" stroke="#222" stroke-width="0.8" />
<line x1="444.50" y1="76.37" x2="442.60" y2="76.37" stroke="#222" stroke-width="0.8" />
<line x1="475.50" y1="105.20" x2="475.50" y2="108.60" stroke="#222" stroke-width="0.9" />
<line x1="444.50" y1="74.45" x2="441.10" y2="74.45" stroke="#222" stroke-width="0.9" />
<line x1="477.44" y1="105.20" x2="477.44" y2="107.10" stroke="#222" stroke-width="0.8" />
<line x1="444.50" y1="72.53" x2="442.60" y2="72.53" stroke="#222" stroke-width="0.8" />
<line x1="479.38" y1="105.20" x2="479.38" y2="107.10" stroke="#222" stroke-width="0.8" />
<line x1="444.50" y1="70.61" x2="442.60" y2="70.61" stroke="#222" stroke-width="0.8" />
<line x1="481.31" y1="105.20" x2="481.31" y2="107.10" stroke="#222" stroke-width="0.8" />
<line x1="444.50" y1="68.68" x2="442.60" y2="68.68" stroke="#222" stroke-width="0.8" />
<line x1="483.25" y1="105.20" x2="483.25" y2="107.10" stroke="#222" stroke-width="0.8" />
<line x1="444.50" y1="66.76" x2="442.60" y2="66.76" stroke="#222" stroke-width="0.8" />
<line x1="485.19" y1="105.20" x2="485.19" y2="107.10" stroke="#222" stroke-width="0.8" />
<line x1="444.50" y1="64.84" x2="442.60" y2="64.84" stroke="#222" stroke-width="0.8" />
<line x1="487.12" y1="105.20" x2="487.12" y2="107.10" stroke="#222" stroke-width="0.8" />
<line x1="444.50" y1="62.92" x2="442.60" y2="62.92" stroke="#222" stroke-width="0.8" />
<line x1="489.06" y1="105.20" x2="489.06" y2="107.10" stroke="#222" stroke-width="0.8" />
<line x1="444.50" y1="61.00" x2="442.60" y2="61.00" stroke="#222" stroke-width="0.8" />
<line x1="491.00" y1="105.20" x2="491.00" y2="108.60" stroke="#222" stroke-width="0.9" />
<line x1="444.50" y1="59.08" x2="441.10" y2="59.08" stroke="#222" stroke-width="0.9" />
<line x1="492.94" y1="105.20" x2="492.94" y2="107.10" stroke="#222" stroke-width="0.8" />
<line x1="444.50" y1="57.15" x2="442.60" y2="57.15" stroke="#222" stroke-width="0.8" />
<line x1="494.88" y1="105.20" x2="494.88" y2="107.10" stroke="#222" stroke-width="0.8" />
<line x1="444.50" y1="55.23" x2="442.60" y2="55.23" stroke="#222" stroke-width="0.8" />
<line x1="496.81" y1="105.20" x2="496.81" y2="107.10" stroke="#222" stroke-width="0.8" />
<line x1="444.50" y1="53.31" x2="442.60" y2="53.31" stroke="#222" stroke-width="0.8" />
<line x1="498.75" y1="105.20" x2="498.75" y2="107.10" stroke="#222" stroke-width="0.8" />
<line x1="444.50" y1="51.39" x2="442.60" y2="51.39" stroke="#222" stroke-width="0.8" />
<line x1="500.69" y1="105.20" x2="500.69" y2="107.10" stroke="#222" stroke-width="0.8" />
<line x1="444.50" y1="49.47" x2="442.60" y2="49.47" stroke="#222" stroke-width="0.8" />
<line x1="502.62" y1="105.20" x2="502.62" y2="107.10" stroke="#222" stroke-width="0.8" />
<line x1="444.50" y1="47.54" x2="442.60" y2="47.54" stroke="#222" stroke-width="0.8" />
<line x1="504.56" y1="105.20" x2="504.56" y2="107.10" stroke="#222" stroke-width="0.8" />
<line x1="444.50" y1="45.62" x2="442.60" y2="45.62" stroke="#222" stroke-width="0.8" />
<line x1="506.50" y1="105.20" x2="506.50" y2="108.60" stroke="#222" stroke-width="0.9" />
<line x1="444.50" y1="43.70" x2="441.10" y2="43.70" stroke="#222" stroke-width="0.9" />
<rect x="444.50" y="43.70" width="62.00" height="61.50" fill="none" stroke="#231f20" stroke-width="1.5"/>
<text x="444.80" y="118.6" font-size="6.6" fill="#333" text-anchor="middle">10<tspan font-size="4.2" dy="-2.6">0</tspan></text>
<text x="0" y="0" font-size="6.6" fill="#333" text-anchor="middle" transform="translate(437.00,105.50) rotate(-90)">10<tspan font-size="4.2" dy="-2.6">0</tspan></text>
<text x="460.30" y="118.6" font-size="6.6" fill="#333" text-anchor="middle">10<tspan font-size="4.2" dy="-2.6">1</tspan></text>
<text x="0" y="0" font-size="6.6" fill="#333" text-anchor="middle" transform="translate(437.00,90.12) rotate(-90)">10<tspan font-size="4.2" dy="-2.6">1</tspan></text>
<text x="475.80" y="118.6" font-size="6.6" fill="#333" text-anchor="middle">10<tspan font-size="4.2" dy="-2.6">2</tspan></text>
<text x="0" y="0" font-size="6.6" fill="#333" text-anchor="middle" transform="translate(437.00,74.75) rotate(-90)">10<tspan font-size="4.2" dy="-2.6">2</tspan></text>
<text x="491.30" y="118.6" font-size="6.6" fill="#333" text-anchor="middle">10<tspan font-size="4.2" dy="-2.6">3</tspan></text>
<text x="0" y="0" font-size="6.6" fill="#333" text-anchor="middle" transform="translate(437.00,59.38) rotate(-90)">10<tspan font-size="4.2" dy="-2.6">3</tspan></text>
<text x="506.80" y="118.6" font-size="6.6" fill="#333" text-anchor="middle">10<tspan font-size="4.2" dy="-2.6">4</tspan></text>
<text x="0" y="0" font-size="6.6" fill="#333" text-anchor="middle" transform="translate(437.00,44.00) rotate(-90)">10<tspan font-size="4.2" dy="-2.6">4</tspan></text>
<text x="475.60" y="131.60" font-size="10" fill="#1c1a1b" text-anchor="middle" textLength="41.5" lengthAdjust="spacingAndGlyphs" >FL2-Height</text>
<text x="0" y="0" font-size="9.6" fill="#1c1a1b"  transform="translate(426.10,74.60) rotate(-90)" text-anchor="middle" textLength="22" lengthAdjust="spacingAndGlyphs" >FL4-H</text>
<text x="0" y="0" font-size="9.6" fill="#1c1a1b"  transform="translate(413.30,74.30) rotate(-90)" text-anchor="middle" textLength="27.5" lengthAdjust="spacingAndGlyphs" >mCD45</text>
<defs>
<radialGradient id="blob" cx="50%" cy="50%" r="50%">
<stop offset="0" stop-color="#b2b2b2"/><stop offset="0.5" stop-color="#9c9c9c"/><stop offset="0.85" stop-color="#828282"/><stop offset="1" stop-color="#6e6e6e"/>
</radialGradient>
<radialGradient id="blobd" cx="50%" cy="50%" r="50%">
<stop offset="0" stop-color="#8a8a8a"/><stop offset="0.6" stop-color="#6e6e6e"/><stop offset="1" stop-color="#5a5a5a"/>
</radialGradient>
<filter id="rough" x="-20%" y="-20%" width="140%" height="140%">
<feTurbulence type="fractalNoise" baseFrequency="0.6" numOctaves="2" seed="3" result="n"/>
<feDisplacementMap in="SourceGraphic" in2="n" scale="3.0" xChannelSelector="R" yChannelSelector="G"/>
</filter>
<filter id="grain" x="-20%" y="-20%" width="140%" height="140%">
<feGaussianBlur in="SourceGraphic" stdDeviation="0.6" result="b"/>
<feTurbulence type="fractalNoise" baseFrequency="0.9" numOctaves="2" seed="7" result="t"/>
<feColorMatrix in="t" type="matrix" values="0 0 0 0 0  0 0 0 0 0  0 0 0 0 0  0.9 0 0 0 -0.5" result="g"/>
<feComposite in="g" in2="b" operator="in" result="gi"/>
<feMerge><feMergeNode in="b"/><feMergeNode in="gi"/></feMerge>
</filter>
</defs>
<polyline points="70.80,105.20 70.80,81.20 105.80,81.20" fill="none" stroke="#a09893" stroke-width="0.9"/>
<path d="M61.29,94.80 L61.95,96.89 L61.75,98.32 L61.68,99.70 L61.34,100.89 L61.11,102.23 L59.96,102.57 L59.02,103.03 L57.83,102.96 L56.71,102.92 L55.63,103.28 L54.00,104.04 L52.19,104.17 L50.89,104.10 L49.78,103.80 L48.99,103.01 L48.70,101.70 L48.01,101.06 L47.46,100.23 L47.40,99.01 L46.50,98.21 L46.21,96.84 L45.75,94.80 L45.67,92.61 L46.34,91.32 L46.51,90.02 L47.26,89.21 L48.10,88.63 L48.24,87.30 L48.50,85.78 L49.92,86.10 L50.96,85.70 L52.24,85.67 L54.00,86.20 L55.63,86.36 L56.69,86.74 L57.88,86.53 L58.37,87.64 L59.13,88.11 L60.48,88.03 L60.36,89.52 L60.66,90.55 L61.10,91.57 L61.21,92.91 Z" fill="#505050" filter="url(#rough)"/>
<path d="M59.83,94.80 L60.36,96.47 L60.20,97.62 L60.14,98.72 L59.87,99.68 L59.69,100.75 L58.77,101.01 L58.02,101.39 L57.06,101.33 L56.17,101.29 L55.31,101.58 L54.00,102.19 L52.55,102.30 L51.52,102.24 L50.62,102.00 L49.99,101.37 L49.76,100.32 L49.20,99.81 L48.77,99.14 L48.72,98.17 L48.00,97.53 L47.77,96.44 L47.40,94.80 L47.33,93.05 L47.87,92.01 L48.01,90.98 L48.61,90.33 L49.28,89.87 L49.39,88.80 L49.60,87.58 L50.74,87.84 L51.57,87.52 L52.59,87.50 L54.00,87.92 L55.30,88.05 L56.15,88.35 L57.10,88.18 L57.49,89.07 L58.11,89.45 L59.18,89.38 L59.09,90.58 L59.33,91.40 L59.68,92.22 L59.77,93.29 Z" fill="url(#blob)" filter="url(#grain)"/>
<rect x="64.25" y="83.95" width="1" height="1" fill="#2a2a2a"/>
<rect x="60.35" y="100.45" width="1" height="1" fill="#2a2a2a"/>
<rect x="71.95" y="76.75" width="1" height="1" fill="#2a2a2a"/>
<rect x="61.55" y="90.05" width="1" height="1" fill="#2a2a2a"/>
<polyline points="167.60,105.20 167.60,81.40 202.60,81.40" fill="none" stroke="#a09893" stroke-width="0.9"/>
<path d="M165.49,95.00 L163.96,96.87 L164.45,98.40 L163.96,99.55 L162.29,99.91 L162.22,101.12 L160.92,101.39 L160.27,102.27 L159.01,102.48 L158.03,103.38 L156.33,103.06 L154.20,102.94 L151.97,103.46 L150.50,103.10 L149.12,102.91 L147.42,103.12 L147.19,101.67 L146.28,101.04 L145.32,100.38 L144.43,99.55 L145.15,98.00 L144.21,96.91 L144.33,95.00 L144.51,93.14 L144.41,91.75 L145.10,90.76 L144.95,89.39 L146.25,88.94 L146.74,87.91 L148.29,87.92 L149.38,87.49 L150.23,86.31 L151.90,86.30 L154.20,86.49 L156.16,87.59 L157.76,87.22 L158.88,87.71 L160.34,87.65 L161.30,88.24 L162.54,88.64 L163.56,89.32 L163.98,90.44 L164.45,91.60 L164.13,93.10 Z" fill="#505050" filter="url(#rough)"/>
<path d="M163.24,95.00 L162.01,96.50 L162.40,97.72 L162.00,98.64 L160.68,98.93 L160.61,99.89 L159.58,100.11 L159.06,100.82 L158.05,100.99 L157.27,101.71 L155.90,101.44 L154.20,101.35 L152.41,101.77 L151.24,101.48 L150.14,101.33 L148.77,101.49 L148.59,100.33 L147.87,99.83 L147.10,99.31 L146.38,98.64 L146.96,97.40 L146.21,96.53 L146.31,95.00 L146.45,93.52 L146.37,92.40 L146.92,91.61 L146.80,90.51 L147.84,90.15 L148.23,89.33 L149.47,89.34 L150.34,88.99 L151.02,88.05 L152.36,88.04 L154.20,88.19 L155.76,89.08 L157.05,88.77 L157.95,89.17 L159.11,89.12 L159.88,89.60 L160.87,89.91 L161.69,90.46 L162.02,91.35 L162.40,92.28 L162.15,93.48 Z" fill="url(#blob)" filter="url(#grain)"/>
<path d="M199.73,95.60 L199.87,97.25 L199.67,98.39 L199.85,99.60 L198.85,100.16 L198.40,100.97 L197.74,101.63 L197.01,102.25 L196.06,102.68 L194.70,102.37 L193.57,102.75 L191.80,102.86 L190.03,102.74 L188.58,103.11 L187.60,102.58 L186.92,101.83 L186.21,101.28 L185.59,100.66 L184.98,100.02 L183.56,99.70 L183.87,98.41 L183.84,97.23 L183.68,95.60 L183.40,93.88 L183.91,92.81 L183.68,91.56 L184.94,91.16 L185.32,90.33 L185.70,89.40 L186.41,88.71 L187.89,89.10 L188.82,88.66 L190.16,88.96 L191.80,88.91 L193.55,88.53 L194.86,88.46 L195.90,88.80 L197.01,88.95 L198.09,89.22 L198.64,90.03 L198.62,91.19 L199.91,91.56 L200.31,92.58 L199.92,93.94 Z" fill="#505050" filter="url(#rough)"/>
<path d="M198.15,95.60 L198.26,96.92 L198.10,97.83 L198.24,98.80 L197.44,99.25 L197.08,99.90 L196.55,100.42 L195.96,100.92 L195.21,101.27 L194.12,101.01 L193.22,101.32 L191.80,101.41 L190.39,101.31 L189.22,101.61 L188.44,101.18 L187.90,100.58 L187.32,100.14 L186.83,99.65 L186.34,99.13 L185.21,98.88 L185.45,97.85 L185.43,96.90 L185.30,95.60 L185.08,94.23 L185.49,93.37 L185.30,92.37 L186.31,92.05 L186.62,91.38 L186.92,90.64 L187.49,90.09 L188.67,90.40 L189.42,90.05 L190.49,90.29 L191.80,90.25 L193.20,89.94 L194.25,89.88 L195.08,90.16 L195.97,90.28 L196.83,90.49 L197.27,91.15 L197.26,92.07 L198.29,92.37 L198.61,93.19 L198.30,94.27 Z" fill="url(#blob)" filter="url(#grain)"/>
<rect x="164.35" y="86.15" width="1" height="1" fill="#2a2a2a"/>
<rect x="165.15" y="88.05" width="1" height="1" fill="#2a2a2a"/>
<rect x="171.85" y="87.85" width="1" height="1" fill="#2a2a2a"/>
<rect x="175.15" y="86.35" width="1" height="1" fill="#2a2a2a"/>
<rect x="175.75" y="90.75" width="1" height="1" fill="#2a2a2a"/>
<rect x="179.05" y="93.25" width="1" height="1" fill="#2a2a2a"/>
<rect x="182.15" y="89.95" width="1" height="1" fill="#2a2a2a"/>
<text x="197.40" y="79.00" font-size="7.8" fill="#1c1a1b" text-anchor="end" textLength="22.6" lengthAdjust="spacingAndGlyphs" >29±8,6</text>
<polyline points="264.10,105.20 264.10,81.00 299.50,81.00" fill="none" stroke="#a09893" stroke-width="0.9"/>
<path d="M256.30,94.70 L255.86,96.39 L255.47,97.48 L255.89,98.84 L255.49,99.79 L255.90,101.47 L254.77,101.85 L253.97,102.57 L252.68,102.51 L251.55,102.70 L250.47,103.64 L248.50,103.62 L246.53,103.65 L245.45,102.70 L244.32,102.50 L243.02,102.57 L242.88,101.11 L241.68,100.95 L241.56,99.75 L240.36,99.25 L239.57,98.26 L240.27,96.59 L239.30,94.70 L239.60,92.65 L241.13,91.76 L241.69,90.89 L241.78,89.81 L242.99,89.65 L243.11,88.54 L243.74,87.86 L244.13,86.53 L245.50,86.83 L246.63,86.18 L248.50,86.49 L250.30,86.51 L251.83,85.95 L253.00,86.30 L254.27,86.41 L255.30,86.94 L256.17,87.67 L256.36,88.98 L256.12,90.44 L256.67,91.44 L255.70,93.04 Z" fill="#505050" filter="url(#rough)"/>
<path d="M254.74,94.70 L254.39,96.05 L254.08,96.92 L254.42,98.01 L254.09,98.77 L254.42,100.12 L253.51,100.42 L252.88,100.99 L251.84,100.95 L250.94,101.10 L250.07,101.86 L248.50,101.84 L246.92,101.86 L246.06,101.10 L245.16,100.94 L244.12,100.99 L244.01,99.83 L243.04,99.70 L242.95,98.74 L241.99,98.34 L241.36,97.55 L241.91,96.22 L241.14,94.70 L241.38,93.06 L242.60,92.35 L243.05,91.65 L243.12,90.79 L244.09,90.66 L244.19,89.77 L244.69,89.23 L245.00,88.16 L246.10,88.40 L247.00,87.89 L248.50,88.13 L249.94,88.15 L251.17,87.70 L252.10,87.98 L253.11,88.07 L253.94,88.49 L254.64,89.08 L254.79,90.12 L254.60,91.29 L255.04,92.10 L254.26,93.38 Z" fill="url(#blob)" filter="url(#grain)"/>
<path d="M294.88,95.30 L294.69,96.85 L294.98,98.11 L294.37,98.86 L294.39,99.95 L293.47,100.22 L293.01,100.85 L292.66,101.74 L291.96,102.23 L291.13,102.62 L290.25,103.60 L288.60,103.30 L287.47,102.83 L286.60,103.03 L286.21,101.86 L285.73,101.37 L285.42,100.65 L284.76,100.47 L284.23,99.98 L284.37,98.78 L284.18,97.89 L283.86,96.90 L283.64,95.30 L283.81,93.68 L284.20,92.72 L284.06,91.56 L284.60,91.02 L284.57,89.86 L284.68,88.72 L285.43,88.59 L285.93,87.97 L286.84,88.49 L287.58,88.48 L288.60,88.08 L290.01,88.24 L291.00,88.34 L291.86,88.58 L292.53,89.07 L293.82,88.72 L294.03,89.81 L294.11,90.87 L294.54,91.63 L294.45,92.73 L295.07,93.66 Z" fill="#505050" filter="url(#rough)"/>
<path d="M293.63,95.30 L293.47,96.54 L293.71,97.55 L293.21,98.15 L293.24,99.02 L292.50,99.24 L292.13,99.74 L291.85,100.45 L291.29,100.84 L290.62,101.16 L289.92,101.94 L288.60,101.70 L287.70,101.33 L287.00,101.48 L286.69,100.55 L286.30,100.16 L286.05,99.58 L285.53,99.44 L285.11,99.04 L285.22,98.08 L285.07,97.37 L284.81,96.58 L284.63,95.30 L284.77,94.00 L285.08,93.24 L284.97,92.31 L285.40,91.87 L285.37,90.95 L285.47,90.04 L286.06,89.94 L286.47,89.43 L287.19,89.85 L287.78,89.84 L288.60,89.53 L289.73,89.65 L290.52,89.73 L291.21,89.93 L291.74,90.32 L292.78,90.04 L292.95,90.91 L293.01,91.76 L293.35,92.36 L293.28,93.24 L293.78,93.99 Z" fill="url(#blob)" filter="url(#grain)"/>
<rect x="261.55" y="100.55" width="1" height="1" fill="#2a2a2a"/>
<rect x="280.05" y="91.05" width="1" height="1" fill="#2a2a2a"/>
<rect x="279.75" y="99.05" width="1" height="1" fill="#2a2a2a"/>
<rect x="258.05" y="97.05" width="1" height="1" fill="#2a2a2a"/>
<text x="292.50" y="79.00" font-size="7.8" fill="#1c1a1b" text-anchor="end" textLength="24.7" lengthAdjust="spacingAndGlyphs" >34±16,2</text>
<polyline points="361.50,105.20 361.50,82.20 398.50,82.20" fill="none" stroke="#a09893" stroke-width="0.9"/>
<path d="M357.91,94.40 L357.06,96.27 L357.38,97.75 L356.59,98.69 L356.66,100.03 L356.11,101.02 L355.05,101.51 L353.79,101.65 L353.23,102.85 L351.87,102.93 L350.30,102.51 L348.40,102.13 L346.48,102.59 L345.01,102.74 L344.16,101.83 L342.38,102.51 L342.23,101.00 L340.96,100.79 L340.23,99.97 L339.73,98.95 L339.55,97.70 L339.87,96.24 L338.76,94.40 L339.26,92.43 L339.55,91.10 L339.67,89.82 L340.59,89.07 L340.88,87.94 L341.79,87.32 L342.84,86.92 L344.14,86.93 L345.06,86.19 L346.36,85.72 L348.40,85.94 L350.41,85.85 L351.85,85.92 L352.68,86.90 L353.73,87.23 L355.08,87.25 L355.63,88.19 L356.45,88.91 L356.56,90.12 L357.07,91.16 L357.73,92.39 Z" fill="#505050" filter="url(#rough)"/>
<path d="M356.01,94.40 L355.33,95.89 L355.59,97.08 L354.95,97.83 L355.00,98.90 L354.57,99.70 L353.72,100.09 L352.71,100.20 L352.26,101.16 L351.17,101.22 L349.92,100.89 L348.40,100.59 L346.86,100.95 L345.69,101.07 L345.01,100.34 L343.58,100.89 L343.46,99.68 L342.45,99.51 L341.87,98.86 L341.47,98.04 L341.32,97.04 L341.58,95.87 L340.69,94.40 L341.09,92.82 L341.32,91.76 L341.42,90.74 L342.15,90.14 L342.38,89.23 L343.11,88.74 L343.95,88.41 L344.99,88.43 L345.73,87.83 L346.77,87.46 L348.40,87.63 L350.01,87.56 L351.16,87.62 L351.83,88.40 L352.66,88.66 L353.75,88.68 L354.19,89.43 L354.84,90.01 L354.93,90.98 L355.33,91.81 L355.87,92.79 Z" fill="url(#blob)" filter="url(#grain)"/>
<path d="M386.10,92.80 L386.87,94.04 L386.32,94.77 L386.14,95.47 L385.64,95.97 L385.04,96.31 L384.61,96.77 L383.66,96.62 L383.36,97.29 L382.59,97.37 L381.79,97.64 L380.55,97.52 L379.37,97.40 L378.68,96.99 L377.79,97.21 L376.96,97.21 L376.36,96.89 L376.26,96.16 L375.09,96.20 L375.18,95.37 L374.79,94.76 L375.01,93.89 L374.82,92.80 L375.25,91.76 L375.25,91.00 L375.55,90.41 L375.96,89.94 L376.05,89.27 L376.22,88.57 L376.79,88.18 L377.90,88.57 L378.48,88.16 L379.29,87.92 L380.55,88.46 L381.72,88.25 L382.49,88.46 L383.10,88.72 L383.97,88.60 L384.47,88.98 L384.59,89.64 L385.50,89.72 L385.43,90.47 L386.34,90.83 L386.17,91.69 Z" fill="#505050" filter="url(#rough)"/>
<path d="M384.99,92.80 L385.61,93.79 L385.17,94.37 L385.02,94.94 L384.63,95.33 L384.14,95.61 L383.80,95.97 L383.04,95.86 L382.80,96.39 L382.18,96.46 L381.55,96.67 L380.55,96.57 L379.60,96.48 L379.06,96.15 L378.34,96.33 L377.67,96.33 L377.20,96.07 L377.12,95.49 L376.18,95.52 L376.25,94.86 L375.94,94.37 L376.12,93.67 L375.97,92.80 L376.31,91.97 L376.31,91.36 L376.55,90.89 L376.88,90.52 L376.95,89.98 L377.09,89.42 L377.54,89.11 L378.43,89.42 L378.89,89.09 L379.55,88.90 L380.55,89.33 L381.49,89.16 L382.10,89.32 L382.59,89.54 L383.29,89.44 L383.69,89.74 L383.78,90.27 L384.51,90.34 L384.46,90.93 L385.18,91.22 L385.05,91.92 Z" fill="url(#blobd)" filter="url(#grain)"/>
<path d="M382.30,98.75 L382.59,99.63 L382.39,100.14 L382.25,100.58 L382.23,101.10 L381.91,101.23 L381.62,101.30 L381.45,101.57 L381.20,101.64 L381.03,102.10 L380.72,102.24 L380.25,102.43 L379.78,102.25 L379.50,101.97 L379.18,102.02 L378.96,101.76 L378.65,101.73 L378.53,101.31 L378.18,101.21 L378.11,100.70 L378.18,100.09 L378.22,99.51 L378.20,98.75 L378.19,97.98 L378.32,97.50 L378.37,97.04 L378.45,96.62 L378.67,96.39 L378.65,95.76 L378.98,95.78 L379.21,95.59 L379.39,95.07 L379.77,95.21 L380.25,95.28 L380.75,95.07 L381.05,95.34 L381.26,95.68 L381.65,95.48 L381.75,95.96 L382.02,96.11 L382.03,96.64 L382.04,97.12 L382.34,97.39 L382.51,97.90 Z" fill="#505050" filter="url(#rough)"/>
<path d="M381.89,98.75 L382.13,99.45 L381.96,99.86 L381.85,100.21 L381.83,100.63 L381.58,100.74 L381.34,100.79 L381.21,101.01 L381.01,101.06 L380.88,101.43 L380.63,101.54 L380.25,101.69 L379.87,101.55 L379.65,101.33 L379.39,101.36 L379.22,101.16 L378.97,101.13 L378.88,100.80 L378.59,100.72 L378.54,100.31 L378.60,99.82 L378.63,99.36 L378.61,98.75 L378.60,98.13 L378.71,97.75 L378.75,97.38 L378.81,97.05 L378.98,96.86 L378.97,96.36 L379.23,96.37 L379.42,96.22 L379.56,95.81 L379.87,95.92 L380.25,95.98 L380.65,95.81 L380.89,96.02 L381.06,96.30 L381.37,96.14 L381.45,96.52 L381.67,96.63 L381.67,97.06 L381.68,97.44 L381.93,97.66 L382.06,98.07 Z" fill="url(#blobd)" filter="url(#grain)"/>
<path d="M395.65,94.70 L396.08,96.54 L395.76,97.72 L395.82,98.98 L395.60,100.06 L394.62,100.24 L394.05,100.73 L393.97,102.15 L392.89,101.68 L392.29,102.41 L391.49,103.13 L390.10,103.63 L388.70,103.24 L387.65,103.32 L386.97,102.53 L386.38,101.85 L385.59,101.59 L385.60,100.21 L385.35,99.32 L384.93,98.58 L384.24,97.83 L383.45,96.75 L383.37,94.70 L383.67,92.72 L384.72,91.83 L384.57,90.55 L385.00,89.73 L385.73,89.34 L385.71,87.99 L386.35,87.48 L386.94,86.79 L387.63,86.02 L388.77,86.60 L390.10,87.02 L391.47,86.33 L392.42,86.54 L393.23,86.86 L394.30,86.62 L394.79,87.53 L395.13,88.53 L395.62,89.32 L395.87,90.38 L395.58,91.78 L396.12,92.85 Z" fill="#505050" filter="url(#rough)"/>
<path d="M394.54,94.70 L394.88,96.17 L394.63,97.12 L394.67,98.13 L394.50,98.98 L393.71,99.13 L393.26,99.53 L393.20,100.66 L392.33,100.29 L391.86,100.87 L391.21,101.45 L390.10,101.84 L388.98,101.53 L388.14,101.60 L387.60,100.96 L387.13,100.42 L386.49,100.21 L386.50,99.11 L386.30,98.40 L385.96,97.80 L385.41,97.20 L384.78,96.34 L384.71,94.70 L384.96,93.12 L385.80,92.40 L385.67,91.38 L386.02,90.72 L386.60,90.41 L386.59,89.34 L387.10,88.93 L387.57,88.37 L388.12,87.75 L389.03,88.22 L390.10,88.55 L391.20,88.01 L391.96,88.17 L392.61,88.43 L393.46,88.23 L393.85,88.97 L394.12,89.77 L394.51,90.40 L394.71,91.24 L394.48,92.36 L394.92,93.22 Z" fill="url(#blob)" filter="url(#grain)"/>
<text x="391.50" y="80.60" font-size="7.8" fill="#1c1a1b" text-anchor="end" textLength="24.2" lengthAdjust="spacingAndGlyphs" >28±17,4</text>
<polyline points="444.5,82.8 466.3,79.5 506.5,79.5" fill="none" stroke="#a09893" stroke-width="0.9"/>
<polyline points="466.3,43.7 466.3,79.5 460.4,105.2" fill="none" stroke="#a09893" stroke-width="0.9"/>
<path d="M444.8,44.2 L464.5,44.2 L463.6,48 L464,51.5 L461.5,54 L459.5,57.5 L456.5,59 L451,58.6 L447.5,58.2 L445,57.2 Z" fill="#505050" filter="url(#rough)"/>
<path d="M446.5,45.5 L462.5,45.5 L461.8,48.5 L462,51 L459.8,53.5 L458,56.2 L455.5,57.4 L451,57 L448,56.6 L446.5,55.8 Z" fill="url(#blob)" filter="url(#grain)"/>
<path d="M503.00,89.85 L502.55,91.54 L502.28,92.63 L501.96,93.54 L502.30,94.96 L501.81,95.71 L501.47,96.66 L500.39,96.44 L499.72,96.81 L499.11,97.59 L497.96,96.55 L496.80,96.58 L495.57,96.97 L494.64,97.09 L493.56,97.57 L492.63,97.49 L492.26,96.47 L491.38,96.18 L491.10,95.14 L490.89,94.07 L490.50,93.05 L490.75,91.63 L490.65,89.85 L491.06,88.17 L490.97,86.89 L491.44,86.02 L491.81,85.22 L492.46,84.78 L492.85,84.10 L493.28,83.39 L494.14,83.52 L494.75,82.97 L495.51,82.35 L496.80,81.96 L498.24,81.52 L499.23,81.72 L499.98,82.27 L500.75,82.60 L500.91,83.86 L501.70,84.13 L501.84,85.17 L502.60,85.71 L502.33,87.04 L502.49,88.18 Z" fill="#505050" filter="url(#rough)"/>
<path d="M501.76,89.85 L501.40,91.20 L501.18,92.08 L500.93,92.80 L501.20,93.94 L500.81,94.54 L500.54,95.29 L499.67,95.12 L499.13,95.42 L498.65,96.04 L497.72,95.21 L496.80,95.23 L495.82,95.55 L495.07,95.64 L494.21,96.03 L493.47,95.96 L493.17,95.14 L492.47,94.91 L492.24,94.08 L492.07,93.23 L491.76,92.41 L491.96,91.27 L491.88,89.85 L492.21,88.50 L492.14,87.48 L492.51,86.79 L492.81,86.15 L493.33,85.79 L493.64,85.25 L493.98,84.68 L494.68,84.78 L495.16,84.35 L495.77,83.85 L496.80,83.54 L497.95,83.18 L498.74,83.35 L499.34,83.79 L499.96,84.05 L500.09,85.06 L500.72,85.27 L500.83,86.11 L501.44,86.54 L501.22,87.60 L501.35,88.51 Z" fill="url(#blob)" filter="url(#grain)"/>
<text x="475.80" y="69.40" font-size="7.8" fill="#1c1a1b" text-anchor="end" textLength="26.2" lengthAdjust="spacingAndGlyphs" >56±25,2</text>
<text x="503.00" y="104.80" font-size="7.8" fill="#1c1a1b" text-anchor="end" textLength="20.6" lengthAdjust="spacingAndGlyphs" >39±24</text>
<line x1="30.00" y1="139.10" x2="501.00" y2="139.10" stroke="#2b2b2b" stroke-width="1.8" />
<path d="M499.6,136.1 L506.3,139.1 L499.6,142.1 Z" fill="#1a1a1a"/>
<text x="268.00" y="153.00" font-size="9.6" fill="#1c1a1b" text-anchor="middle" textLength="28.2" lengthAdjust="spacingAndGlyphs" >hCD45</text>
<line x1="37.30" y1="201.00" x2="37.30" y2="311.50" stroke="#231f20" stroke-width="1.45" />
<line x1="33.90" y1="311.30" x2="37.30" y2="311.30" stroke="#231f20" stroke-width="1.1" />
<text x="31.00" y="314.30" font-size="8.4" fill="#1c1a1b" text-anchor="end" >0</text>
<line x1="33.90" y1="297.88" x2="37.30" y2="297.88" stroke="#231f20" stroke-width="1.1" />
<text x="31.00" y="300.88" font-size="8.4" fill="#1c1a1b" text-anchor="end" >2</text>
<line x1="33.90" y1="284.45" x2="37.30" y2="284.45" stroke="#231f20" stroke-width="1.1" />
<text x="31.00" y="287.45" font-size="8.4" fill="#1c1a1b" text-anchor="end" >4</text>
<line x1="33.90" y1="271.02" x2="37.30" y2="271.02" stroke="#231f20" stroke-width="1.1" />
<text x="31.00" y="274.02" font-size="8.4" fill="#1c1a1b" text-anchor="end" >6</text>
<line x1="33.90" y1="257.60" x2="37.30" y2="257.60" stroke="#231f20" stroke-width="1.1" />
<text x="31.00" y="260.60" font-size="8.4" fill="#1c1a1b" text-anchor="end" >8</text>
<line x1="33.90" y1="244.18" x2="37.30" y2="244.18" stroke="#231f20" stroke-width="1.1" />
<text x="31.00" y="247.18" font-size="8.4" fill="#1c1a1b" text-anchor="end" >10</text>
<line x1="33.90" y1="230.75" x2="37.30" y2="230.75" stroke="#231f20" stroke-width="1.1" />
<text x="31.00" y="233.75" font-size="8.4" fill="#1c1a1b" text-anchor="end" >12</text>
<line x1="33.90" y1="217.32" x2="37.30" y2="217.32" stroke="#231f20" stroke-width="1.1" />
<text x="31.00" y="220.32" font-size="8.4" fill="#1c1a1b" text-anchor="end" >14</text>
<line x1="33.90" y1="203.90" x2="37.30" y2="203.90" stroke="#231f20" stroke-width="1.1" />
<text x="31.00" y="206.90" font-size="8.4" fill="#1c1a1b" text-anchor="end" >16</text>
<line x1="37.30" y1="311.50" x2="249.00" y2="311.50" stroke="#231f20" stroke-width="1.5" />
<line x1="63.60" y1="311.50" x2="63.60" y2="314.60" stroke="#231f20" stroke-width="1.1" />
<text x="63.60" y="325.10" font-size="8.4" fill="#1c1a1b" text-anchor="middle" >4</text>
<line x1="116.70" y1="311.50" x2="116.70" y2="314.60" stroke="#231f20" stroke-width="1.1" />
<text x="116.70" y="325.10" font-size="8.4" fill="#1c1a1b" text-anchor="middle" >8</text>
<line x1="169.70" y1="311.50" x2="169.70" y2="314.60" stroke="#231f20" stroke-width="1.1" />
<text x="169.70" y="325.10" font-size="8.4" fill="#1c1a1b" text-anchor="middle" >12</text>
<line x1="222.70" y1="311.50" x2="222.70" y2="314.60" stroke="#231f20" stroke-width="1.1" />
<text x="222.70" y="325.10" font-size="8.4" fill="#1c1a1b" text-anchor="middle" >16</text>
<text x="43.20" y="342.60" font-size="10" fill="#1c1a1b" textLength="201.4" lengthAdjust="spacingAndGlyphs" >Time after hCD34<tspan font-size="6" dy="-3.6">+</tspan><tspan dy="3.6"> cells transplantation (weeks)</tspan></text>
<text x="0" y="0" font-size="9.7" fill="#1c1a1b"  transform="translate(14.40,255.50) rotate(-90)" text-anchor="middle" textLength="69" lengthAdjust="spacingAndGlyphs" >% hFVIII activity</text>
<line x1="63.60" y1="241.20" x2="63.60" y2="259.90" stroke="#1e1e1e" stroke-width="1.25" />
<line x1="61.00" y1="241.20" x2="66.20" y2="241.20" stroke="#1e1e1e" stroke-width="1.25" />
<line x1="61.00" y1="259.90" x2="66.20" y2="259.90" stroke="#1e1e1e" stroke-width="1.25" />
<line x1="116.70" y1="221.30" x2="116.70" y2="262.60" stroke="#1e1e1e" stroke-width="1.25" />
<line x1="114.10" y1="221.30" x2="119.30" y2="221.30" stroke="#1e1e1e" stroke-width="1.25" />
<line x1="114.10" y1="262.60" x2="119.30" y2="262.60" stroke="#1e1e1e" stroke-width="1.25" />
<line x1="169.70" y1="226.00" x2="169.70" y2="259.00" stroke="#1e1e1e" stroke-width="1.25" />
<line x1="167.10" y1="226.00" x2="172.30" y2="226.00" stroke="#1e1e1e" stroke-width="1.25" />
<line x1="167.10" y1="259.00" x2="172.30" y2="259.00" stroke="#1e1e1e" stroke-width="1.25" />
<line x1="222.70" y1="244.30" x2="222.70" y2="271.40" stroke="#1e1e1e" stroke-width="1.25" />
<line x1="220.10" y1="244.30" x2="225.30" y2="244.30" stroke="#1e1e1e" stroke-width="1.25" />
<line x1="220.10" y1="271.40" x2="225.30" y2="271.40" stroke="#1e1e1e" stroke-width="1.25" />
<polyline points="63.6,250.5 116.7,241.4 169.7,242.5 222.7,257.8" fill="none" stroke="#9f1c34" stroke-width="1.6"/>
<circle cx="63.6" cy="250.5" r="2.1" fill="#fff" stroke="#9f1c34" stroke-width="1.25"/>
<circle cx="116.7" cy="241.4" r="2.1" fill="#fff" stroke="#9f1c34" stroke-width="1.25"/>
<circle cx="169.7" cy="242.5" r="2.1" fill="#fff" stroke="#9f1c34" stroke-width="1.25"/>
<circle cx="222.7" cy="257.8" r="2.1" fill="#fff" stroke="#9f1c34" stroke-width="1.25"/>
<line x1="63.60" y1="294.00" x2="63.60" y2="301.00" stroke="#1e1e1e" stroke-width="1.25" />
<line x1="61.30" y1="294.00" x2="65.90" y2="294.00" stroke="#1e1e1e" stroke-width="1.25" />
<line x1="61.30" y1="301.00" x2="65.90" y2="301.00" stroke="#1e1e1e" stroke-width="1.25" />
<polyline points="63.6,297.2 116.7,297.7 169.7,298.8 222.7,296.9" fill="none" stroke="#45648f" stroke-width="1.5"/>
<path d="M61.70,295.68 L65.50,295.68 L63.60,298.91 Z" fill="#45648f"/>
<path d="M114.80,296.18 L118.60,296.18 L116.70,299.41 Z" fill="#45648f"/>
<path d="M167.80,297.28 L171.60,297.28 L169.70,300.51 Z" fill="#45648f"/>
<path d="M220.80,295.38 L224.60,295.38 L222.70,298.61 Z" fill="#45648f"/>
<line x1="193.00" y1="207.90" x2="204.60" y2="207.90" stroke="#9f1c34" stroke-width="1.6" />
<circle cx="198.7" cy="207.9" r="2.3" fill="#fff" stroke="#9f1c34" stroke-width="1.1"/>
<text x="211.70" y="211.00" font-size="8.6" fill="#1c1a1b" textLength="67.5" lengthAdjust="spacingAndGlyphs" >hCD34<tspan font-size="5.5" dy="-3.2">+</tspan><tspan dy="3.2">- LV.pF8.FVIII</tspan></text>
<line x1="193.50" y1="220.60" x2="204.60" y2="220.60" stroke="#45648f" stroke-width="1.5" />
<path d="M197.00,219.08 L200.80,219.08 L198.90,222.31 Z" fill="#45648f"/>
<text x="210.20" y="223.70" font-size="8.6" fill="#1c1a1b" textLength="25.5" lengthAdjust="spacingAndGlyphs" >hCD34<tspan font-size="5.5" dy="-3.2">+</tspan></text>
<text x="170.70" y="282.30" font-size="7.6" fill="#1c1a1b" textLength="39" lengthAdjust="spacingAndGlyphs" >* p=&lt;0.0001</text>
<line x1="331.80" y1="207.00" x2="331.80" y2="311.30" stroke="#231f20" stroke-width="1.45" />
<line x1="328.40" y1="311.30" x2="331.80" y2="311.30" stroke="#231f20" stroke-width="1.1" />
<text x="325.60" y="314.30" font-size="8.4" fill="#1c1a1b" text-anchor="end" >0.0</text>
<line x1="328.40" y1="298.65" x2="331.80" y2="298.65" stroke="#231f20" stroke-width="1.1" />
<text x="325.60" y="301.65" font-size="8.4" fill="#1c1a1b" text-anchor="end" >0.2</text>
<line x1="328.40" y1="286.00" x2="331.80" y2="286.00" stroke="#231f20" stroke-width="1.1" />
<text x="325.60" y="289.00" font-size="8.4" fill="#1c1a1b" text-anchor="end" >0.4</text>
<line x1="328.40" y1="273.35" x2="331.80" y2="273.35" stroke="#231f20" stroke-width="1.1" />
<text x="325.60" y="276.35" font-size="8.4" fill="#1c1a1b" text-anchor="end" >0.6</text>
<line x1="328.40" y1="260.70" x2="331.80" y2="260.70" stroke="#231f20" stroke-width="1.1" />
<text x="325.60" y="263.70" font-size="8.4" fill="#1c1a1b" text-anchor="end" >0.8</text>
<line x1="328.40" y1="248.05" x2="331.80" y2="248.05" stroke="#231f20" stroke-width="1.1" />
<text x="325.60" y="251.05" font-size="8.4" fill="#1c1a1b" text-anchor="end" >1.0</text>
<line x1="328.40" y1="235.40" x2="331.80" y2="235.40" stroke="#231f20" stroke-width="1.1" />
<text x="325.60" y="238.40" font-size="8.4" fill="#1c1a1b" text-anchor="end" >1.2</text>
<line x1="328.40" y1="222.75" x2="331.80" y2="222.75" stroke="#231f20" stroke-width="1.1" />
<text x="325.60" y="225.75" font-size="8.4" fill="#1c1a1b" text-anchor="end" >1.4</text>
<line x1="328.40" y1="210.10" x2="331.80" y2="210.10" stroke="#231f20" stroke-width="1.1" />
<text x="325.60" y="213.10" font-size="8.4" fill="#1c1a1b" text-anchor="end" >1.6</text>
<line x1="331.80" y1="311.30" x2="501.00" y2="311.30" stroke="#231f20" stroke-width="1.5" />
<line x1="353.45" y1="222.20" x2="353.45" y2="227.00" stroke="#1e1e1e" stroke-width="1.1" />
<line x1="348.95" y1="222.20" x2="357.95" y2="222.20" stroke="#1e1e1e" stroke-width="1.1" />
<rect x="344.85" y="227.35" width="17.20" height="83.95" fill="#6b4a6b" stroke="#5a375b" stroke-width="0.7"/>
<line x1="353.45" y1="311.30" x2="353.45" y2="314.80" stroke="#231f20" stroke-width="1.1" />
<line x1="395.55" y1="303.80" x2="395.55" y2="305.20" stroke="#1e1e1e" stroke-width="1.1" />
<line x1="391.05" y1="303.80" x2="400.05" y2="303.80" stroke="#1e1e1e" stroke-width="1.1" />
<rect x="387.55" y="305.55" width="16.00" height="5.75" fill="#d69a3c" stroke="#c98a2c" stroke-width="0.7"/>
<line x1="395.55" y1="311.30" x2="395.55" y2="314.80" stroke="#231f20" stroke-width="1.1" />
<line x1="438.30" y1="247.10" x2="438.30" y2="250.50" stroke="#1e1e1e" stroke-width="1.1" />
<line x1="433.80" y1="247.10" x2="442.80" y2="247.10" stroke="#1e1e1e" stroke-width="1.1" />
<rect x="430.45" y="250.85" width="15.70" height="60.45" fill="#4d6482" stroke="#3b5173" stroke-width="0.7"/>
<line x1="438.30" y1="311.30" x2="438.30" y2="314.80" stroke="#231f20" stroke-width="1.1" />
<line x1="480.55" y1="292.20" x2="480.55" y2="295.60" stroke="#1e1e1e" stroke-width="1.1" />
<line x1="476.05" y1="292.20" x2="485.05" y2="292.20" stroke="#1e1e1e" stroke-width="1.1" />
<rect x="472.55" y="295.95" width="16.00" height="15.35" fill="#a03543" stroke="#8f2636" stroke-width="0.7"/>
<line x1="480.55" y1="311.30" x2="480.55" y2="314.80" stroke="#231f20" stroke-width="1.1" />
<line x1="331.80" y1="311.30" x2="501.00" y2="311.30" stroke="#231f20" stroke-width="1.5" />
<text x="0" y="0" font-size="8.2" fill="#1c1a1b"  transform="translate(356.30,320.50) rotate(-45)" text-anchor="end" >HA</text>
<text x="0" y="0" font-size="8.2" fill="#1c1a1b"  transform="translate(398.30,320.50) rotate(-45)" text-anchor="end" >WT</text>
<text x="0" y="0" font-size="8.2" fill="#1c1a1b"  transform="translate(441.20,320.50) rotate(-45)" text-anchor="end" >hCD34<tspan font-size="5.5" dy="-3.2">+</tspan></text>
<text x="0" y="0" font-size="8.2" fill="#1c1a1b"  transform="translate(483.80,321.00) rotate(-45)" text-anchor="end" >hCD34<tspan font-size="5.5" dy="-3.2">+</tspan><tspan font-size="6.3" dy="3.0"> -pF8.FVIII</tspan></text>
<polyline points="352.7,201.3 352.7,198.5 481.1,198.5 481.1,201.3" fill="none" stroke="#2a2a2a" stroke-width="1.1"/>
<polyline points="352.7,207.10000000000002 352.7,204.3 438.8,204.3 438.8,207.10000000000002" fill="none" stroke="#2a2a2a" stroke-width="1.1"/>
<polyline points="352.7,213.70000000000002 352.7,210.9 392.7,210.9 392.7,213.70000000000002" fill="none" stroke="#2a2a2a" stroke-width="1.1"/>
<polyline points="395.2,241.9 395.2,239.1 481.1,239.1 481.1,241.9" fill="none" stroke="#2a2a2a" stroke-width="1.1"/>
<line x1="439.00" y1="239.10" x2="439.00" y2="241.90" stroke="#1e1e1e" stroke-width="1.1" />
<text x="411.60" y="197.80" font-size="6.5" fill="#1c1a1b" text-anchor="middle" >*</text>
<text x="394.20" y="203.40" font-size="6.5" fill="#1c1a1b" text-anchor="middle" >*</text>
<text x="376.50" y="209.80" font-size="6.5" fill="#1c1a1b" text-anchor="middle" >*</text>
<text x="417.00" y="238.20" font-size="6.5" fill="#1c1a1b" text-anchor="middle" >*</text>
<text x="461.20" y="238.30" font-size="6.5" fill="#1c1a1b" text-anchor="middle" >*</text>
<text x="0" y="0" font-size="10" fill="#1c1a1b"  transform="translate(307.60,260.50) rotate(-90)" text-anchor="middle" textLength="94.5" lengthAdjust="spacingAndGlyphs" >Blood loss (OD597nm)</text>
<text x="470.30" y="222.60" font-size="7.6" fill="#1c1a1b" textLength="39.5" lengthAdjust="spacingAndGlyphs" >* p=&lt;0.0001</text>
<line x1="39.00" y1="414.30" x2="39.00" y2="523.80" stroke="#231f20" stroke-width="1.45" />
<line x1="35.60" y1="523.80" x2="39.00" y2="523.80" stroke="#231f20" stroke-width="1.1" />
<text x="32.80" y="526.80" font-size="8.4" fill="#1c1a1b" text-anchor="end" >0</text>
<line x1="35.60" y1="501.96" x2="39.00" y2="501.96" stroke="#231f20" stroke-width="1.1" />
<text x="32.80" y="504.96" font-size="8.4" fill="#1c1a1b" text-anchor="end" >2</text>
<line x1="35.60" y1="480.12" x2="39.00" y2="480.12" stroke="#231f20" stroke-width="1.1" />
<text x="32.80" y="483.12" font-size="8.4" fill="#1c1a1b" text-anchor="end" >4</text>
<line x1="35.60" y1="458.28" x2="39.00" y2="458.28" stroke="#231f20" stroke-width="1.1" />
<text x="32.80" y="461.28" font-size="8.4" fill="#1c1a1b" text-anchor="end" >6</text>
<line x1="35.60" y1="436.44" x2="39.00" y2="436.44" stroke="#231f20" stroke-width="1.1" />
<text x="32.80" y="439.44" font-size="8.4" fill="#1c1a1b" text-anchor="end" >8</text>
<line x1="35.60" y1="414.60" x2="39.00" y2="414.60" stroke="#231f20" stroke-width="1.1" />
<text x="32.80" y="417.60" font-size="8.4" fill="#1c1a1b" text-anchor="end" >10</text>
<line x1="39.00" y1="523.80" x2="249.00" y2="523.80" stroke="#231f20" stroke-width="1.5" />
<line x1="60.10" y1="523.80" x2="60.10" y2="527.00" stroke="#231f20" stroke-width="1.1" />
<text x="60.10" y="536.50" font-size="8.4" fill="#1c1a1b" text-anchor="middle" >4</text>
<line x1="101.70" y1="523.80" x2="101.70" y2="527.00" stroke="#231f20" stroke-width="1.1" />
<text x="101.70" y="536.50" font-size="8.4" fill="#1c1a1b" text-anchor="middle" >8</text>
<line x1="144.40" y1="523.80" x2="144.40" y2="527.00" stroke="#231f20" stroke-width="1.1" />
<text x="144.40" y="536.50" font-size="8.4" fill="#1c1a1b" text-anchor="middle" >12</text>
<line x1="186.70" y1="523.80" x2="186.70" y2="527.00" stroke="#231f20" stroke-width="1.1" />
<text x="186.70" y="536.50" font-size="8.4" fill="#1c1a1b" text-anchor="middle" >16</text>
<line x1="228.80" y1="523.80" x2="228.80" y2="527.00" stroke="#231f20" stroke-width="1.1" />
<text x="228.80" y="536.50" font-size="8.4" fill="#1c1a1b" text-anchor="middle" >24</text>
<line x1="60.10" y1="426.70" x2="60.10" y2="479.20" stroke="#1e1e1e" stroke-width="1.25" />
<line x1="57.50" y1="426.70" x2="62.70" y2="426.70" stroke="#1e1e1e" stroke-width="1.25" />
<line x1="57.50" y1="479.20" x2="62.70" y2="479.20" stroke="#1e1e1e" stroke-width="1.25" />
<line x1="101.70" y1="458.30" x2="101.70" y2="473.00" stroke="#1e1e1e" stroke-width="1.25" />
<line x1="99.10" y1="458.30" x2="104.30" y2="458.30" stroke="#1e1e1e" stroke-width="1.25" />
<line x1="99.10" y1="473.00" x2="104.30" y2="473.00" stroke="#1e1e1e" stroke-width="1.25" />
<line x1="144.40" y1="462.70" x2="144.40" y2="474.20" stroke="#1e1e1e" stroke-width="1.25" />
<line x1="141.80" y1="462.70" x2="147.00" y2="462.70" stroke="#1e1e1e" stroke-width="1.25" />
<line x1="141.80" y1="474.20" x2="147.00" y2="474.20" stroke="#1e1e1e" stroke-width="1.25" />
<line x1="186.70" y1="481.60" x2="186.70" y2="492.90" stroke="#1e1e1e" stroke-width="1.25" />
<line x1="184.10" y1="481.60" x2="189.30" y2="481.60" stroke="#1e1e1e" stroke-width="1.25" />
<line x1="184.10" y1="492.90" x2="189.30" y2="492.90" stroke="#1e1e1e" stroke-width="1.25" />
<line x1="228.80" y1="478.20" x2="228.80" y2="488.50" stroke="#1e1e1e" stroke-width="1.25" />
<line x1="226.20" y1="478.20" x2="231.40" y2="478.20" stroke="#1e1e1e" stroke-width="1.25" />
<line x1="226.20" y1="488.50" x2="231.40" y2="488.50" stroke="#1e1e1e" stroke-width="1.25" />
<polyline points="60.1,453.0 101.7,465.6 144.4,468.5 186.7,486.8 228.8,483.5" fill="none" stroke="#9f1c34" stroke-width="1.6"/>
<circle cx="60.1" cy="453.0" r="2.1" fill="#fff" stroke="#9f1c34" stroke-width="1.25"/>
<circle cx="101.7" cy="465.6" r="2.1" fill="#fff" stroke="#9f1c34" stroke-width="1.25"/>
<circle cx="144.4" cy="468.5" r="2.1" fill="#fff" stroke="#9f1c34" stroke-width="1.25"/>
<circle cx="186.7" cy="486.8" r="2.1" fill="#fff" stroke="#9f1c34" stroke-width="1.25"/>
<circle cx="228.8" cy="483.5" r="2.1" fill="#fff" stroke="#9f1c34" stroke-width="1.25"/>
<text x="52.70" y="553.50" font-size="10" fill="#1c1a1b" textLength="183.5" lengthAdjust="spacingAndGlyphs" >Time after Lin<tspan font-size="6" dy="-3.6">-</tspan><tspan dy="3.6"> cells transplantation (weeks)</tspan></text>
<text x="0" y="0" font-size="10.2" fill="#1c1a1b"  transform="translate(17.40,468.60) rotate(-90)" text-anchor="middle" textLength="66.4" lengthAdjust="spacingAndGlyphs" >% hFVIII activity</text>
<line x1="337.00" y1="410.50" x2="337.00" y2="470.30" stroke="#231f20" stroke-width="1.45" />
<line x1="333.60" y1="413.00" x2="337.00" y2="413.00" stroke="#231f20" stroke-width="1.1" />
<text x="330.60" y="416.00" font-size="8.4" fill="#1c1a1b" text-anchor="end" >1.00</text>
<line x1="333.60" y1="441.60" x2="337.00" y2="441.60" stroke="#231f20" stroke-width="1.1" />
<text x="330.60" y="444.60" font-size="8.4" fill="#1c1a1b" text-anchor="end" >0.75</text>
<line x1="333.60" y1="470.30" x2="337.00" y2="470.30" stroke="#231f20" stroke-width="1.1" />
<text x="330.60" y="473.30" font-size="8.4" fill="#1c1a1b" text-anchor="end" >0.50</text>
<line x1="337.00" y1="479.50" x2="337.00" y2="524.90" stroke="#231f20" stroke-width="1.45" />
<line x1="333.60" y1="479.50" x2="337.00" y2="479.50" stroke="#231f20" stroke-width="1.1" />
<text x="330.60" y="482.50" font-size="8.4" fill="#1c1a1b" text-anchor="end" >0.10</text>
<line x1="333.60" y1="502.20" x2="337.00" y2="502.20" stroke="#231f20" stroke-width="1.1" />
<text x="330.60" y="505.20" font-size="8.4" fill="#1c1a1b" text-anchor="end" >0.05</text>
<line x1="333.60" y1="524.90" x2="337.00" y2="524.90" stroke="#231f20" stroke-width="1.1" />
<text x="330.60" y="527.90" font-size="8.4" fill="#1c1a1b" text-anchor="end" >0.00</text>
<line x1="334.30" y1="470.30" x2="339.60" y2="470.30" stroke="#231f20" stroke-width="1.3" />
<line x1="334.30" y1="479.50" x2="340.30" y2="479.50" stroke="#231f20" stroke-width="1.3" />
<line x1="349.70" y1="518.70" x2="349.70" y2="521.50" stroke="#1e1e1e" stroke-width="1.1" />
<line x1="345.30" y1="518.70" x2="354.10" y2="518.70" stroke="#1e1e1e" stroke-width="1.1" />
<rect x="341.85" y="521.85" width="15.70" height="3.05" fill="#a03543" stroke="#8f2636" stroke-width="0.7"/>
<line x1="374.65" y1="519.50" x2="374.65" y2="521.20" stroke="#1e1e1e" stroke-width="1.1" />
<line x1="370.25" y1="519.50" x2="379.05" y2="519.50" stroke="#1e1e1e" stroke-width="1.1" />
<rect x="366.80" y="521.55" width="15.70" height="3.35" fill="#a03543" stroke="#8f2636" stroke-width="0.7"/>
<line x1="399.60" y1="519.80" x2="399.60" y2="522.00" stroke="#1e1e1e" stroke-width="1.1" />
<line x1="395.20" y1="519.80" x2="404.00" y2="519.80" stroke="#1e1e1e" stroke-width="1.1" />
<rect x="391.75" y="522.35" width="15.70" height="2.55" fill="#a03543" stroke="#8f2636" stroke-width="0.7"/>
<line x1="424.55" y1="518.00" x2="424.55" y2="521.90" stroke="#1e1e1e" stroke-width="1.1" />
<line x1="420.15" y1="518.00" x2="428.95" y2="518.00" stroke="#1e1e1e" stroke-width="1.1" />
<rect x="416.70" y="522.25" width="15.70" height="2.65" fill="#a03543" stroke="#8f2636" stroke-width="0.7"/>
<line x1="449.50" y1="516.30" x2="449.50" y2="521.00" stroke="#1e1e1e" stroke-width="1.1" />
<line x1="445.10" y1="516.30" x2="453.90" y2="516.30" stroke="#1e1e1e" stroke-width="1.1" />
<rect x="441.65" y="521.35" width="15.70" height="3.55" fill="#a03543" stroke="#8f2636" stroke-width="0.7"/>
<line x1="474.45" y1="518.80" x2="474.45" y2="519.80" stroke="#1e1e1e" stroke-width="1.1" />
<line x1="470.05" y1="518.80" x2="478.85" y2="518.80" stroke="#1e1e1e" stroke-width="1.1" />
<rect x="466.60" y="520.15" width="15.70" height="4.75" fill="#6b4a6b" stroke="#5a375b" stroke-width="0.7"/>
<line x1="499.40" y1="424.40" x2="499.40" y2="427.10" stroke="#1e1e1e" stroke-width="1.25" />
<line x1="495.50" y1="424.40" x2="503.30" y2="424.40" stroke="#1e1e1e" stroke-width="1.25" />
<rect x="491.25" y="427.45" width="16.30" height="42.35" fill="#d6963d" stroke="#c98a2c" stroke-width="0.7"/>
<rect x="491.25" y="479.65" width="16.30" height="45.25" fill="#d6963d" stroke="#c98a2c" stroke-width="0.7"/>
<line x1="334.00" y1="524.90" x2="512.70" y2="524.90" stroke="#231f20" stroke-width="1.5" />
<line x1="349.70" y1="524.90" x2="349.70" y2="528.00" stroke="#231f20" stroke-width="1.1" />
<text x="349.70" y="539.60" font-size="8.4" fill="#1c1a1b" text-anchor="middle" >4</text>
<line x1="374.65" y1="524.90" x2="374.65" y2="528.00" stroke="#231f20" stroke-width="1.1" />
<text x="374.65" y="539.60" font-size="8.4" fill="#1c1a1b" text-anchor="middle" >8</text>
<line x1="399.60" y1="524.90" x2="399.60" y2="528.00" stroke="#231f20" stroke-width="1.1" />
<text x="399.60" y="539.60" font-size="8.4" fill="#1c1a1b" text-anchor="middle" >12</text>
<line x1="424.55" y1="524.90" x2="424.55" y2="528.00" stroke="#231f20" stroke-width="1.1" />
<text x="424.55" y="539.60" font-size="8.4" fill="#1c1a1b" text-anchor="middle" >16</text>
<line x1="449.50" y1="524.90" x2="449.50" y2="528.00" stroke="#231f20" stroke-width="1.1" />
<text x="449.50" y="539.60" font-size="8.4" fill="#1c1a1b" text-anchor="middle" >24</text>
<line x1="474.45" y1="524.90" x2="474.45" y2="528.00" stroke="#231f20" stroke-width="1.1" />
<text x="474.45" y="539.60" font-size="8.4" fill="#1c1a1b" text-anchor="middle" >HA</text>
<line x1="499.40" y1="524.90" x2="499.40" y2="528.00" stroke="#231f20" stroke-width="1.1" />
<text x="499.40" y="539.60" font-size="8.4" fill="#1c1a1b" text-anchor="middle" >Ctr+</text>
<text x="360.00" y="553.60" font-size="10" fill="#1c1a1b" textLength="129.7" lengthAdjust="spacingAndGlyphs" >Time after LV injection (weeks)</text>
<text x="0" y="0" font-size="10.2" fill="#1c1a1b"  transform="translate(308.40,520.20) rotate(-90)" textLength="75.6" lengthAdjust="spacingAndGlyphs" >Anti-FVIII IgG (OD</text>
<text x="0" y="0" font-size="7.8" fill="#1c1a1b"  transform="translate(310.60,444.40) rotate(-90)" textLength="21.4" lengthAdjust="spacingAndGlyphs" >450nm</text>
<text x="0" y="0" font-size="10.2" fill="#1c1a1b"  transform="translate(308.40,422.90) rotate(-90)" textLength="3.3" lengthAdjust="spacingAndGlyphs" >)</text>
<line x1="39.20" y1="607.50" x2="39.20" y2="722.30" stroke="#231f20" stroke-width="1.45" />
<line x1="35.80" y1="722.20" x2="39.20" y2="722.20" stroke="#231f20" stroke-width="1.1" />
<text x="32.40" y="725.20" font-size="8.4" fill="#1c1a1b" text-anchor="end" >0.0</text>
<line x1="35.80" y1="708.22" x2="39.20" y2="708.22" stroke="#231f20" stroke-width="1.1" />
<text x="32.40" y="711.22" font-size="8.4" fill="#1c1a1b" text-anchor="end" >0.2</text>
<line x1="35.80" y1="694.24" x2="39.20" y2="694.24" stroke="#231f20" stroke-width="1.1" />
<text x="32.40" y="697.24" font-size="8.4" fill="#1c1a1b" text-anchor="end" >0.4</text>
<line x1="35.80" y1="680.26" x2="39.20" y2="680.26" stroke="#231f20" stroke-width="1.1" />
<text x="32.40" y="683.26" font-size="8.4" fill="#1c1a1b" text-anchor="end" >0.6</text>
<line x1="35.80" y1="666.28" x2="39.20" y2="666.28" stroke="#231f20" stroke-width="1.1" />
<text x="32.40" y="669.28" font-size="8.4" fill="#1c1a1b" text-anchor="end" >0.8</text>
<line x1="35.80" y1="652.30" x2="39.20" y2="652.30" stroke="#231f20" stroke-width="1.1" />
<text x="32.40" y="655.30" font-size="8.4" fill="#1c1a1b" text-anchor="end" >1.0</text>
<line x1="35.80" y1="638.32" x2="39.20" y2="638.32" stroke="#231f20" stroke-width="1.1" />
<text x="32.40" y="641.32" font-size="8.4" fill="#1c1a1b" text-anchor="end" >1.2</text>
<line x1="35.80" y1="624.34" x2="39.20" y2="624.34" stroke="#231f20" stroke-width="1.1" />
<text x="32.40" y="627.34" font-size="8.4" fill="#1c1a1b" text-anchor="end" >1.4</text>
<line x1="35.80" y1="610.36" x2="39.20" y2="610.36" stroke="#231f20" stroke-width="1.1" />
<text x="32.40" y="613.36" font-size="8.4" fill="#1c1a1b" text-anchor="end" >1.6</text>
<line x1="70.35" y1="628.30" x2="70.35" y2="636.90" stroke="#1e1e1e" stroke-width="1.1" />
<line x1="63.85" y1="628.30" x2="76.85" y2="628.30" stroke="#1e1e1e" stroke-width="1.1" />
<rect x="57.55" y="637.25" width="25.60" height="85.05" fill="#6b4a6b" stroke="#5a375b" stroke-width="0.7"/>
<line x1="70.35" y1="722.30" x2="70.35" y2="725.90" stroke="#231f20" stroke-width="1.1" />
<line x1="133.20" y1="716.10" x2="133.20" y2="717.90" stroke="#1e1e1e" stroke-width="1.1" />
<line x1="126.50" y1="716.10" x2="139.90" y2="716.10" stroke="#1e1e1e" stroke-width="1.1" />
<rect x="120.95" y="718.25" width="24.50" height="4.05" fill="#d69a3c" stroke="#c98a2c" stroke-width="0.7"/>
<line x1="133.20" y1="722.30" x2="133.20" y2="725.90" stroke="#231f20" stroke-width="1.1" />
<line x1="196.20" y1="708.20" x2="196.20" y2="714.40" stroke="#1e1e1e" stroke-width="1.1" />
<line x1="189.80" y1="708.20" x2="202.60" y2="708.20" stroke="#1e1e1e" stroke-width="1.1" />
<rect x="183.95" y="714.75" width="24.50" height="7.55" fill="#a03543" stroke="#8f2636" stroke-width="0.7"/>
<line x1="196.20" y1="722.30" x2="196.20" y2="725.90" stroke="#231f20" stroke-width="1.1" />
<line x1="39.20" y1="722.30" x2="228.30" y2="722.30" stroke="#231f20" stroke-width="1.5" />
<text x="70.50" y="736.50" font-size="8.2" fill="#1c1a1b" text-anchor="middle" >HA</text>
<text x="133.20" y="736.50" font-size="8.2" fill="#1c1a1b" text-anchor="middle" >WT</text>
<text x="195.60" y="736.50" font-size="8.2" fill="#1c1a1b" text-anchor="middle" textLength="46.5" lengthAdjust="spacingAndGlyphs" >Lin<tspan font-size="5.5" dy="-3">-</tspan><tspan dy="3">-pF8.FVIII</tspan></text>
<polyline points="70.4,612.9 70.4,609.5 195.0,609.5 195.0,612.9" fill="none" stroke="#2a2a2a" stroke-width="1.1"/>
<polyline points="70.4,623.6999999999999 70.4,620.3 134.8,620.3 134.8,623.6999999999999" fill="none" stroke="#2a2a2a" stroke-width="1.1"/>
<text x="136.80" y="608.60" font-size="6.5" fill="#1c1a1b" text-anchor="middle" >*</text>
<text x="101.50" y="619.60" font-size="6.5" fill="#1c1a1b" text-anchor="middle" >*</text>
<text x="182.90" y="641.20" font-size="7.6" fill="#1c1a1b" textLength="39.8" lengthAdjust="spacingAndGlyphs" >* p=&lt;0.0001</text>
<text x="0" y="0" font-size="10" fill="#1c1a1b"  transform="translate(16.60,664.50) rotate(-90)" text-anchor="middle" textLength="94" lengthAdjust="spacingAndGlyphs" >Blood loss (OD597nm)</text>
<rect x="0" y="1" width="520" height="1" fill="#c0c0c0"/>
<rect x="0" y="744" width="520" height="1" fill="#999"/>
<rect x="518" y="0" width="1" height="746" fill="#999"/>
<rect x="0" y="0" width="520" height="1" fill="#000"/>
<rect x="0" y="745" width="520" height="1" fill="#000"/>
<rect x="519" y="0" width="1" height="746" fill="#000"/>
<rect x="1" y="0" width="1" height="746" fill="#6a6a6a"/>
<rect x="0" y="0" width="1" height="746" fill="#555"/>
</svg>
</body></html>
